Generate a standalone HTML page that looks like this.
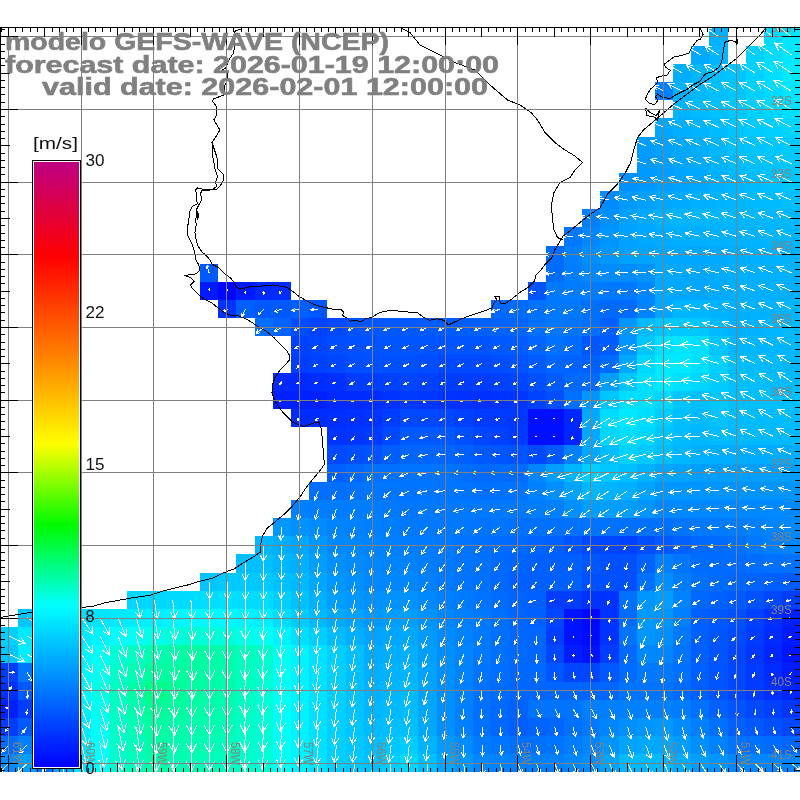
<!DOCTYPE html>
<html><head><meta charset="utf-8"><title>GEFS-WAVE</title>
<style>
html,body{margin:0;padding:0;background:#fff;}
body{width:800px;height:800px;overflow:hidden;font-family:"Liberation Sans",sans-serif;}
svg{display:block;}
text{font-family:"Liberation Sans",sans-serif;}
</style></head><body>
<svg width="800" height="800" viewBox="0 0 800 800">
<defs>
<linearGradient id="cb" x1="0" y1="0" x2="0" y2="1">
<stop offset="0.0000" stop-color="rgb(190,0,130)"/><stop offset="0.1567" stop-color="rgb(255,0,0)"/><stop offset="0.3200" stop-color="rgb(255,128,0)"/><stop offset="0.4667" stop-color="rgb(255,255,0)"/><stop offset="0.6000" stop-color="rgb(0,250,0)"/><stop offset="0.7333" stop-color="rgb(0,255,255)"/><stop offset="1.0000" stop-color="rgb(0,0,255)"/>
</linearGradient>
</defs>
<rect width="800" height="800" fill="#fff"/>
<g shape-rendering="crispEdges">
<rect x="709" y="28" width="19" height="18" fill="#00b1ff"/>
<rect x="764" y="28" width="18" height="18" fill="#00daff"/>
<rect x="782" y="28" width="18" height="18" fill="#00e6ff"/>
<rect x="691" y="46" width="18" height="18" fill="#00abff"/>
<rect x="709" y="46" width="19" height="18" fill="#00b7ff"/>
<rect x="746" y="46" width="18" height="18" fill="#00d0ff"/>
<rect x="764" y="46" width="18" height="18" fill="#00dcff"/>
<rect x="782" y="46" width="18" height="18" fill="#00e8ff"/>
<rect x="673" y="64" width="18" height="18" fill="#00aeff"/>
<rect x="691" y="64" width="18" height="18" fill="#00b7ff"/>
<rect x="709" y="64" width="19" height="18" fill="#00beff"/>
<rect x="728" y="64" width="18" height="18" fill="#00c4ff"/>
<rect x="746" y="64" width="18" height="18" fill="#00d1ff"/>
<rect x="764" y="64" width="18" height="18" fill="#00deff"/>
<rect x="782" y="64" width="18" height="18" fill="#00eaff"/>
<rect x="655" y="82" width="18" height="18" fill="#0080ff"/>
<rect x="673" y="82" width="18" height="18" fill="#00b1ff"/>
<rect x="691" y="82" width="18" height="18" fill="#00b9ff"/>
<rect x="709" y="82" width="19" height="18" fill="#00bfff"/>
<rect x="728" y="82" width="18" height="18" fill="#00c6ff"/>
<rect x="746" y="82" width="18" height="18" fill="#00d0ff"/>
<rect x="764" y="82" width="18" height="18" fill="#00daff"/>
<rect x="782" y="82" width="18" height="18" fill="#00e5ff"/>
<rect x="673" y="100" width="18" height="18" fill="#00b4ff"/>
<rect x="691" y="100" width="18" height="18" fill="#00baff"/>
<rect x="709" y="100" width="19" height="18" fill="#00c1ff"/>
<rect x="728" y="100" width="18" height="18" fill="#00c7ff"/>
<rect x="746" y="100" width="18" height="18" fill="#00cfff"/>
<rect x="764" y="100" width="18" height="18" fill="#00d7ff"/>
<rect x="782" y="100" width="18" height="18" fill="#00dfff"/>
<rect x="655" y="118" width="18" height="19" fill="#00a7ff"/>
<rect x="673" y="118" width="18" height="19" fill="#00aeff"/>
<rect x="691" y="118" width="18" height="19" fill="#00b4ff"/>
<rect x="709" y="118" width="19" height="19" fill="#00bcff"/>
<rect x="728" y="118" width="18" height="19" fill="#00c4ff"/>
<rect x="746" y="118" width="18" height="19" fill="#00caff"/>
<rect x="764" y="118" width="18" height="19" fill="#00cfff"/>
<rect x="782" y="118" width="18" height="19" fill="#00d5ff"/>
<rect x="637" y="137" width="18" height="18" fill="#009cff"/>
<rect x="655" y="137" width="18" height="18" fill="#00a1ff"/>
<rect x="673" y="137" width="18" height="18" fill="#00a7ff"/>
<rect x="691" y="137" width="18" height="18" fill="#00aeff"/>
<rect x="709" y="137" width="19" height="18" fill="#00b7ff"/>
<rect x="728" y="137" width="18" height="18" fill="#00c1ff"/>
<rect x="746" y="137" width="18" height="18" fill="#00c4ff"/>
<rect x="764" y="137" width="18" height="18" fill="#00c7ff"/>
<rect x="782" y="137" width="18" height="18" fill="#00caff"/>
<rect x="637" y="155" width="18" height="18" fill="#009aff"/>
<rect x="655" y="155" width="18" height="18" fill="#009fff"/>
<rect x="673" y="155" width="18" height="18" fill="#00a5ff"/>
<rect x="691" y="155" width="18" height="18" fill="#00abff"/>
<rect x="709" y="155" width="19" height="18" fill="#00b3ff"/>
<rect x="728" y="155" width="18" height="18" fill="#00bcff"/>
<rect x="746" y="155" width="18" height="18" fill="#00c0ff"/>
<rect x="764" y="155" width="18" height="18" fill="#00c4ff"/>
<rect x="782" y="155" width="18" height="18" fill="#00c8ff"/>
<rect x="619" y="173" width="18" height="18" fill="#0091ff"/>
<rect x="637" y="173" width="18" height="18" fill="#0097ff"/>
<rect x="655" y="173" width="18" height="18" fill="#009eff"/>
<rect x="673" y="173" width="18" height="18" fill="#00a3ff"/>
<rect x="691" y="173" width="18" height="18" fill="#00a7ff"/>
<rect x="709" y="173" width="19" height="18" fill="#00afff"/>
<rect x="728" y="173" width="18" height="18" fill="#00b7ff"/>
<rect x="746" y="173" width="18" height="18" fill="#00bcff"/>
<rect x="764" y="173" width="18" height="18" fill="#00c1ff"/>
<rect x="782" y="173" width="18" height="18" fill="#00c6ff"/>
<rect x="600" y="191" width="19" height="18" fill="#008cff"/>
<rect x="619" y="191" width="18" height="18" fill="#0099ff"/>
<rect x="637" y="191" width="18" height="18" fill="#00a0ff"/>
<rect x="655" y="191" width="18" height="18" fill="#00a7ff"/>
<rect x="673" y="191" width="18" height="18" fill="#00abff"/>
<rect x="691" y="191" width="18" height="18" fill="#00afff"/>
<rect x="709" y="191" width="19" height="18" fill="#00b3ff"/>
<rect x="728" y="191" width="18" height="18" fill="#00b7ff"/>
<rect x="746" y="191" width="18" height="18" fill="#00baff"/>
<rect x="764" y="191" width="18" height="18" fill="#00bcff"/>
<rect x="782" y="191" width="18" height="18" fill="#00beff"/>
<rect x="582" y="209" width="18" height="18" fill="#0080ff"/>
<rect x="600" y="209" width="19" height="18" fill="#0090ff"/>
<rect x="619" y="209" width="18" height="18" fill="#00a1ff"/>
<rect x="637" y="209" width="18" height="18" fill="#00a9ff"/>
<rect x="655" y="209" width="18" height="18" fill="#00b1ff"/>
<rect x="673" y="209" width="18" height="18" fill="#00b4ff"/>
<rect x="691" y="209" width="18" height="18" fill="#00b7ff"/>
<rect x="709" y="209" width="19" height="18" fill="#00b7ff"/>
<rect x="728" y="209" width="18" height="18" fill="#00b7ff"/>
<rect x="746" y="209" width="18" height="18" fill="#00b7ff"/>
<rect x="764" y="209" width="18" height="18" fill="#00b7ff"/>
<rect x="782" y="209" width="18" height="18" fill="#00b7ff"/>
<rect x="564" y="227" width="18" height="19" fill="#0079ff"/>
<rect x="582" y="227" width="18" height="19" fill="#0087ff"/>
<rect x="600" y="227" width="19" height="19" fill="#0094ff"/>
<rect x="619" y="227" width="18" height="19" fill="#00a1ff"/>
<rect x="637" y="227" width="18" height="19" fill="#00a7ff"/>
<rect x="655" y="227" width="18" height="19" fill="#00acff"/>
<rect x="673" y="227" width="18" height="19" fill="#00aeff"/>
<rect x="691" y="227" width="18" height="19" fill="#00afff"/>
<rect x="709" y="227" width="19" height="19" fill="#00b1ff"/>
<rect x="728" y="227" width="18" height="19" fill="#00b2ff"/>
<rect x="746" y="227" width="18" height="19" fill="#00b3ff"/>
<rect x="764" y="227" width="18" height="19" fill="#00b4ff"/>
<rect x="782" y="227" width="18" height="19" fill="#00b5ff"/>
<rect x="546" y="246" width="18" height="18" fill="#006cff"/>
<rect x="564" y="246" width="18" height="18" fill="#0080ff"/>
<rect x="582" y="246" width="18" height="18" fill="#008fff"/>
<rect x="600" y="246" width="19" height="18" fill="#0098ff"/>
<rect x="619" y="246" width="18" height="18" fill="#00a1ff"/>
<rect x="637" y="246" width="18" height="18" fill="#00a4ff"/>
<rect x="655" y="246" width="18" height="18" fill="#00a7ff"/>
<rect x="673" y="246" width="18" height="18" fill="#00a7ff"/>
<rect x="691" y="246" width="18" height="18" fill="#00a7ff"/>
<rect x="709" y="246" width="19" height="18" fill="#00abff"/>
<rect x="728" y="246" width="18" height="18" fill="#00aeff"/>
<rect x="746" y="246" width="18" height="18" fill="#00afff"/>
<rect x="764" y="246" width="18" height="18" fill="#00b1ff"/>
<rect x="782" y="246" width="18" height="18" fill="#00b2ff"/>
<rect x="200" y="264" width="18" height="18" fill="#0059ff"/>
<rect x="546" y="264" width="18" height="18" fill="#006cff"/>
<rect x="564" y="264" width="18" height="18" fill="#007eff"/>
<rect x="582" y="264" width="18" height="18" fill="#0089ff"/>
<rect x="600" y="264" width="19" height="18" fill="#008cff"/>
<rect x="619" y="264" width="18" height="18" fill="#008cff"/>
<rect x="637" y="264" width="18" height="18" fill="#0093ff"/>
<rect x="655" y="264" width="18" height="18" fill="#00a8ff"/>
<rect x="673" y="264" width="18" height="18" fill="#00a7ff"/>
<rect x="691" y="264" width="18" height="18" fill="#00a7ff"/>
<rect x="709" y="264" width="19" height="18" fill="#00abff"/>
<rect x="728" y="264" width="18" height="18" fill="#00afff"/>
<rect x="746" y="264" width="18" height="18" fill="#00afff"/>
<rect x="764" y="264" width="18" height="18" fill="#00b0ff"/>
<rect x="782" y="264" width="18" height="18" fill="#00b1ff"/>
<rect x="200" y="282" width="18" height="18" fill="#001aff"/>
<rect x="218" y="282" width="18" height="18" fill="#0006ff"/>
<rect x="236" y="282" width="19" height="18" fill="#001aff"/>
<rect x="255" y="282" width="18" height="18" fill="#0029ff"/>
<rect x="273" y="282" width="18" height="18" fill="#002dff"/>
<rect x="528" y="282" width="18" height="18" fill="#0053ff"/>
<rect x="546" y="282" width="18" height="18" fill="#0079ff"/>
<rect x="564" y="282" width="18" height="18" fill="#007cff"/>
<rect x="582" y="282" width="18" height="18" fill="#007cff"/>
<rect x="600" y="282" width="19" height="18" fill="#0079ff"/>
<rect x="619" y="282" width="18" height="18" fill="#0079ff"/>
<rect x="637" y="282" width="18" height="18" fill="#0086ff"/>
<rect x="655" y="282" width="18" height="18" fill="#00a9ff"/>
<rect x="673" y="282" width="18" height="18" fill="#00a7ff"/>
<rect x="691" y="282" width="18" height="18" fill="#00a6ff"/>
<rect x="709" y="282" width="19" height="18" fill="#00abff"/>
<rect x="728" y="282" width="18" height="18" fill="#00afff"/>
<rect x="746" y="282" width="18" height="18" fill="#00afff"/>
<rect x="764" y="282" width="18" height="18" fill="#00afff"/>
<rect x="782" y="282" width="18" height="18" fill="#00afff"/>
<rect x="218" y="300" width="18" height="18" fill="#0033ff"/>
<rect x="236" y="300" width="19" height="18" fill="#0060ff"/>
<rect x="255" y="300" width="18" height="18" fill="#0059ff"/>
<rect x="273" y="300" width="18" height="18" fill="#0059ff"/>
<rect x="291" y="300" width="18" height="18" fill="#0060ff"/>
<rect x="309" y="300" width="18" height="18" fill="#0056ff"/>
<rect x="491" y="300" width="18" height="18" fill="#0069ff"/>
<rect x="509" y="300" width="19" height="18" fill="#006bff"/>
<rect x="528" y="300" width="18" height="18" fill="#0072ff"/>
<rect x="546" y="300" width="18" height="18" fill="#0079ff"/>
<rect x="564" y="300" width="18" height="18" fill="#0078ff"/>
<rect x="582" y="300" width="18" height="18" fill="#0070ff"/>
<rect x="600" y="300" width="19" height="18" fill="#0069ff"/>
<rect x="619" y="300" width="18" height="18" fill="#006cff"/>
<rect x="637" y="300" width="18" height="18" fill="#0083ff"/>
<rect x="655" y="300" width="18" height="18" fill="#00a6ff"/>
<rect x="673" y="300" width="18" height="18" fill="#00b5ff"/>
<rect x="691" y="300" width="18" height="18" fill="#00b6ff"/>
<rect x="709" y="300" width="19" height="18" fill="#00b2ff"/>
<rect x="728" y="300" width="18" height="18" fill="#00afff"/>
<rect x="746" y="300" width="18" height="18" fill="#00b1ff"/>
<rect x="764" y="300" width="18" height="18" fill="#00b2ff"/>
<rect x="782" y="300" width="18" height="18" fill="#00b4ff"/>
<rect x="255" y="318" width="18" height="18" fill="#0070ff"/>
<rect x="273" y="318" width="18" height="18" fill="#0063ff"/>
<rect x="291" y="318" width="18" height="18" fill="#004cff"/>
<rect x="309" y="318" width="18" height="18" fill="#0043ff"/>
<rect x="327" y="318" width="19" height="18" fill="#0049ff"/>
<rect x="346" y="318" width="18" height="18" fill="#0053ff"/>
<rect x="364" y="318" width="18" height="18" fill="#0056ff"/>
<rect x="382" y="318" width="18" height="18" fill="#0058ff"/>
<rect x="400" y="318" width="18" height="18" fill="#0059ff"/>
<rect x="418" y="318" width="19" height="18" fill="#005bff"/>
<rect x="437" y="318" width="18" height="18" fill="#005cff"/>
<rect x="455" y="318" width="18" height="18" fill="#005eff"/>
<rect x="473" y="318" width="18" height="18" fill="#0060ff"/>
<rect x="491" y="318" width="18" height="18" fill="#0063ff"/>
<rect x="509" y="318" width="19" height="18" fill="#0066ff"/>
<rect x="528" y="318" width="18" height="18" fill="#0070ff"/>
<rect x="546" y="318" width="18" height="18" fill="#0079ff"/>
<rect x="564" y="318" width="18" height="18" fill="#0074ff"/>
<rect x="582" y="318" width="18" height="18" fill="#0070ff"/>
<rect x="600" y="318" width="19" height="18" fill="#0060ff"/>
<rect x="619" y="318" width="18" height="18" fill="#0096ff"/>
<rect x="637" y="318" width="18" height="18" fill="#00b9ff"/>
<rect x="655" y="318" width="18" height="18" fill="#00c6ff"/>
<rect x="673" y="318" width="18" height="18" fill="#00c9ff"/>
<rect x="691" y="318" width="18" height="18" fill="#00c6ff"/>
<rect x="709" y="318" width="19" height="18" fill="#00baff"/>
<rect x="728" y="318" width="18" height="18" fill="#00afff"/>
<rect x="746" y="318" width="18" height="18" fill="#00b2ff"/>
<rect x="764" y="318" width="18" height="18" fill="#00b6ff"/>
<rect x="782" y="318" width="18" height="18" fill="#00b9ff"/>
<rect x="291" y="336" width="18" height="19" fill="#0040ff"/>
<rect x="309" y="336" width="18" height="19" fill="#0046ff"/>
<rect x="327" y="336" width="19" height="19" fill="#004cff"/>
<rect x="346" y="336" width="18" height="19" fill="#0050ff"/>
<rect x="364" y="336" width="18" height="19" fill="#0053ff"/>
<rect x="382" y="336" width="18" height="19" fill="#0054ff"/>
<rect x="400" y="336" width="18" height="19" fill="#0054ff"/>
<rect x="418" y="336" width="19" height="19" fill="#0054ff"/>
<rect x="437" y="336" width="18" height="19" fill="#0053ff"/>
<rect x="455" y="336" width="18" height="19" fill="#0054ff"/>
<rect x="473" y="336" width="18" height="19" fill="#0054ff"/>
<rect x="491" y="336" width="18" height="19" fill="#0058ff"/>
<rect x="509" y="336" width="19" height="19" fill="#005cff"/>
<rect x="528" y="336" width="18" height="19" fill="#0066ff"/>
<rect x="546" y="336" width="18" height="19" fill="#0070ff"/>
<rect x="564" y="336" width="18" height="19" fill="#006cff"/>
<rect x="582" y="336" width="18" height="19" fill="#0056ff"/>
<rect x="600" y="336" width="19" height="19" fill="#005cff"/>
<rect x="619" y="336" width="18" height="19" fill="#0096ff"/>
<rect x="637" y="336" width="18" height="19" fill="#00c6ff"/>
<rect x="655" y="336" width="18" height="19" fill="#00dfff"/>
<rect x="673" y="336" width="18" height="19" fill="#00e6ff"/>
<rect x="691" y="336" width="18" height="19" fill="#00dfff"/>
<rect x="709" y="336" width="19" height="19" fill="#00c5ff"/>
<rect x="728" y="336" width="18" height="19" fill="#00b7ff"/>
<rect x="746" y="336" width="18" height="19" fill="#00b7ff"/>
<rect x="764" y="336" width="18" height="19" fill="#00b7ff"/>
<rect x="782" y="336" width="18" height="19" fill="#00b7ff"/>
<rect x="291" y="355" width="18" height="18" fill="#003dff"/>
<rect x="309" y="355" width="18" height="18" fill="#0040ff"/>
<rect x="327" y="355" width="19" height="18" fill="#0046ff"/>
<rect x="346" y="355" width="18" height="18" fill="#004cff"/>
<rect x="364" y="355" width="18" height="18" fill="#0050ff"/>
<rect x="382" y="355" width="18" height="18" fill="#0050ff"/>
<rect x="400" y="355" width="18" height="18" fill="#0050ff"/>
<rect x="418" y="355" width="19" height="18" fill="#004cff"/>
<rect x="437" y="355" width="18" height="18" fill="#0049ff"/>
<rect x="455" y="355" width="18" height="18" fill="#0049ff"/>
<rect x="473" y="355" width="18" height="18" fill="#0049ff"/>
<rect x="491" y="355" width="18" height="18" fill="#004eff"/>
<rect x="509" y="355" width="19" height="18" fill="#0053ff"/>
<rect x="528" y="355" width="18" height="18" fill="#005cff"/>
<rect x="546" y="355" width="18" height="18" fill="#0066ff"/>
<rect x="564" y="355" width="18" height="18" fill="#0063ff"/>
<rect x="582" y="355" width="18" height="18" fill="#0060ff"/>
<rect x="600" y="355" width="19" height="18" fill="#006cff"/>
<rect x="619" y="355" width="18" height="18" fill="#00a9ff"/>
<rect x="637" y="355" width="18" height="18" fill="#00d6ff"/>
<rect x="655" y="355" width="18" height="18" fill="#00e9ff"/>
<rect x="673" y="355" width="18" height="18" fill="#00e9ff"/>
<rect x="691" y="355" width="18" height="18" fill="#00dfff"/>
<rect x="709" y="355" width="19" height="18" fill="#00cfff"/>
<rect x="728" y="355" width="18" height="18" fill="#00bfff"/>
<rect x="746" y="355" width="18" height="18" fill="#00bcff"/>
<rect x="764" y="355" width="18" height="18" fill="#00b9ff"/>
<rect x="782" y="355" width="18" height="18" fill="#00b6ff"/>
<rect x="273" y="373" width="18" height="18" fill="#0029ff"/>
<rect x="291" y="373" width="18" height="18" fill="#0029ff"/>
<rect x="309" y="373" width="18" height="18" fill="#002dff"/>
<rect x="327" y="373" width="19" height="18" fill="#0030ff"/>
<rect x="346" y="373" width="18" height="18" fill="#003cff"/>
<rect x="364" y="373" width="18" height="18" fill="#003eff"/>
<rect x="382" y="373" width="18" height="18" fill="#0041ff"/>
<rect x="400" y="373" width="18" height="18" fill="#0045ff"/>
<rect x="418" y="373" width="19" height="18" fill="#0041ff"/>
<rect x="437" y="373" width="18" height="18" fill="#003eff"/>
<rect x="455" y="373" width="18" height="18" fill="#003dff"/>
<rect x="473" y="373" width="18" height="18" fill="#003dff"/>
<rect x="491" y="373" width="18" height="18" fill="#0041ff"/>
<rect x="509" y="373" width="19" height="18" fill="#0045ff"/>
<rect x="528" y="373" width="18" height="18" fill="#0050ff"/>
<rect x="546" y="373" width="18" height="18" fill="#005bff"/>
<rect x="564" y="373" width="18" height="18" fill="#0069ff"/>
<rect x="582" y="373" width="18" height="18" fill="#006cff"/>
<rect x="600" y="373" width="19" height="18" fill="#009fff"/>
<rect x="619" y="373" width="18" height="18" fill="#00c6ff"/>
<rect x="637" y="373" width="18" height="18" fill="#00dfff"/>
<rect x="655" y="373" width="18" height="18" fill="#00e9ff"/>
<rect x="673" y="373" width="18" height="18" fill="#00dfff"/>
<rect x="691" y="373" width="18" height="18" fill="#00d6ff"/>
<rect x="709" y="373" width="19" height="18" fill="#00cbff"/>
<rect x="728" y="373" width="18" height="18" fill="#00bfff"/>
<rect x="746" y="373" width="18" height="18" fill="#00beff"/>
<rect x="764" y="373" width="18" height="18" fill="#00bcff"/>
<rect x="782" y="373" width="18" height="18" fill="#00baff"/>
<rect x="273" y="391" width="18" height="18" fill="#0020ff"/>
<rect x="291" y="391" width="18" height="18" fill="#0020ff"/>
<rect x="309" y="391" width="18" height="18" fill="#0020ff"/>
<rect x="327" y="391" width="19" height="18" fill="#0029ff"/>
<rect x="346" y="391" width="18" height="18" fill="#002bff"/>
<rect x="364" y="391" width="18" height="18" fill="#002dff"/>
<rect x="382" y="391" width="18" height="18" fill="#0033ff"/>
<rect x="400" y="391" width="18" height="18" fill="#0039ff"/>
<rect x="418" y="391" width="19" height="18" fill="#0036ff"/>
<rect x="437" y="391" width="18" height="18" fill="#0033ff"/>
<rect x="455" y="391" width="18" height="18" fill="#0031ff"/>
<rect x="473" y="391" width="18" height="18" fill="#0030ff"/>
<rect x="491" y="391" width="18" height="18" fill="#0033ff"/>
<rect x="509" y="391" width="19" height="18" fill="#0036ff"/>
<rect x="528" y="391" width="18" height="18" fill="#0043ff"/>
<rect x="546" y="391" width="18" height="18" fill="#0050ff"/>
<rect x="564" y="391" width="18" height="18" fill="#0070ff"/>
<rect x="582" y="391" width="18" height="18" fill="#0096ff"/>
<rect x="600" y="391" width="19" height="18" fill="#00c6ff"/>
<rect x="619" y="391" width="18" height="18" fill="#00dfff"/>
<rect x="637" y="391" width="18" height="18" fill="#00dfff"/>
<rect x="655" y="391" width="18" height="18" fill="#00d6ff"/>
<rect x="673" y="391" width="18" height="18" fill="#00c6ff"/>
<rect x="691" y="391" width="18" height="18" fill="#00bfff"/>
<rect x="709" y="391" width="19" height="18" fill="#00c7ff"/>
<rect x="728" y="391" width="18" height="18" fill="#00bfff"/>
<rect x="746" y="391" width="18" height="18" fill="#00bfff"/>
<rect x="764" y="391" width="18" height="18" fill="#00bfff"/>
<rect x="782" y="391" width="18" height="18" fill="#00bfff"/>
<rect x="291" y="409" width="18" height="18" fill="#002bff"/>
<rect x="309" y="409" width="18" height="18" fill="#002dff"/>
<rect x="327" y="409" width="19" height="18" fill="#002eff"/>
<rect x="346" y="409" width="18" height="18" fill="#0031ff"/>
<rect x="364" y="409" width="18" height="18" fill="#0033ff"/>
<rect x="382" y="409" width="18" height="18" fill="#003eff"/>
<rect x="400" y="409" width="18" height="18" fill="#0049ff"/>
<rect x="418" y="409" width="19" height="18" fill="#0048ff"/>
<rect x="437" y="409" width="18" height="18" fill="#0046ff"/>
<rect x="455" y="409" width="18" height="18" fill="#0041ff"/>
<rect x="473" y="409" width="18" height="18" fill="#003bff"/>
<rect x="491" y="409" width="18" height="18" fill="#0039ff"/>
<rect x="509" y="409" width="19" height="18" fill="#0038ff"/>
<rect x="528" y="409" width="18" height="18" fill="#0010ff"/>
<rect x="546" y="409" width="18" height="18" fill="#0010ff"/>
<rect x="564" y="409" width="18" height="18" fill="#0026ff"/>
<rect x="582" y="409" width="18" height="18" fill="#00a9ff"/>
<rect x="600" y="409" width="19" height="18" fill="#00dcff"/>
<rect x="619" y="409" width="18" height="18" fill="#00e9ff"/>
<rect x="637" y="409" width="18" height="18" fill="#00dfff"/>
<rect x="655" y="409" width="18" height="18" fill="#00ccff"/>
<rect x="673" y="409" width="18" height="18" fill="#00bfff"/>
<rect x="691" y="409" width="18" height="18" fill="#00b9ff"/>
<rect x="709" y="409" width="19" height="18" fill="#00c2ff"/>
<rect x="728" y="409" width="18" height="18" fill="#00bcff"/>
<rect x="746" y="409" width="18" height="18" fill="#00bcff"/>
<rect x="764" y="409" width="18" height="18" fill="#00bcff"/>
<rect x="782" y="409" width="18" height="18" fill="#00bcff"/>
<rect x="327" y="427" width="19" height="18" fill="#0033ff"/>
<rect x="346" y="427" width="18" height="18" fill="#0036ff"/>
<rect x="364" y="427" width="18" height="18" fill="#0039ff"/>
<rect x="382" y="427" width="18" height="18" fill="#0049ff"/>
<rect x="400" y="427" width="18" height="18" fill="#0059ff"/>
<rect x="418" y="427" width="19" height="18" fill="#0059ff"/>
<rect x="437" y="427" width="18" height="18" fill="#0059ff"/>
<rect x="455" y="427" width="18" height="18" fill="#0050ff"/>
<rect x="473" y="427" width="18" height="18" fill="#0046ff"/>
<rect x="491" y="427" width="18" height="18" fill="#0040ff"/>
<rect x="509" y="427" width="19" height="18" fill="#0039ff"/>
<rect x="528" y="427" width="18" height="18" fill="#0010ff"/>
<rect x="546" y="427" width="18" height="18" fill="#0010ff"/>
<rect x="564" y="427" width="18" height="18" fill="#0026ff"/>
<rect x="582" y="427" width="18" height="18" fill="#00a9ff"/>
<rect x="600" y="427" width="19" height="18" fill="#00d6ff"/>
<rect x="619" y="427" width="18" height="18" fill="#00dfff"/>
<rect x="637" y="427" width="18" height="18" fill="#00d6ff"/>
<rect x="655" y="427" width="18" height="18" fill="#00c6ff"/>
<rect x="673" y="427" width="18" height="18" fill="#00bcff"/>
<rect x="691" y="427" width="18" height="18" fill="#00b6ff"/>
<rect x="709" y="427" width="19" height="18" fill="#00bcff"/>
<rect x="728" y="427" width="18" height="18" fill="#00b9ff"/>
<rect x="746" y="427" width="18" height="18" fill="#00b9ff"/>
<rect x="764" y="427" width="18" height="18" fill="#00b9ff"/>
<rect x="782" y="427" width="18" height="18" fill="#00b9ff"/>
<rect x="327" y="445" width="19" height="19" fill="#0049ff"/>
<rect x="346" y="445" width="18" height="19" fill="#004fff"/>
<rect x="364" y="445" width="18" height="19" fill="#0054ff"/>
<rect x="382" y="445" width="18" height="19" fill="#005dff"/>
<rect x="400" y="445" width="18" height="19" fill="#0066ff"/>
<rect x="418" y="445" width="19" height="19" fill="#0066ff"/>
<rect x="437" y="445" width="18" height="19" fill="#0066ff"/>
<rect x="455" y="445" width="18" height="19" fill="#005fff"/>
<rect x="473" y="445" width="18" height="19" fill="#0058ff"/>
<rect x="491" y="445" width="18" height="19" fill="#0055ff"/>
<rect x="509" y="445" width="19" height="19" fill="#0053ff"/>
<rect x="528" y="445" width="18" height="19" fill="#0049ff"/>
<rect x="546" y="445" width="18" height="19" fill="#0059ff"/>
<rect x="564" y="445" width="18" height="19" fill="#0080ff"/>
<rect x="582" y="445" width="18" height="19" fill="#00a7ff"/>
<rect x="600" y="445" width="19" height="19" fill="#00bdff"/>
<rect x="619" y="445" width="18" height="19" fill="#00d2ff"/>
<rect x="637" y="445" width="18" height="19" fill="#00c9ff"/>
<rect x="655" y="445" width="18" height="19" fill="#00bfff"/>
<rect x="673" y="445" width="18" height="19" fill="#00b7ff"/>
<rect x="691" y="445" width="18" height="19" fill="#00afff"/>
<rect x="709" y="445" width="19" height="19" fill="#00aeff"/>
<rect x="728" y="445" width="18" height="19" fill="#00acff"/>
<rect x="746" y="445" width="18" height="19" fill="#00acff"/>
<rect x="764" y="445" width="18" height="19" fill="#00acff"/>
<rect x="782" y="445" width="18" height="19" fill="#00acff"/>
<rect x="327" y="464" width="19" height="18" fill="#0060ff"/>
<rect x="346" y="464" width="18" height="18" fill="#0068ff"/>
<rect x="364" y="464" width="18" height="18" fill="#0070ff"/>
<rect x="382" y="464" width="18" height="18" fill="#0071ff"/>
<rect x="400" y="464" width="18" height="18" fill="#0073ff"/>
<rect x="418" y="464" width="19" height="18" fill="#0073ff"/>
<rect x="437" y="464" width="18" height="18" fill="#0073ff"/>
<rect x="455" y="464" width="18" height="18" fill="#006eff"/>
<rect x="473" y="464" width="18" height="18" fill="#0069ff"/>
<rect x="491" y="464" width="18" height="18" fill="#006bff"/>
<rect x="509" y="464" width="19" height="18" fill="#006cff"/>
<rect x="528" y="464" width="18" height="18" fill="#0086ff"/>
<rect x="546" y="464" width="18" height="18" fill="#009fff"/>
<rect x="564" y="464" width="18" height="18" fill="#00b7ff"/>
<rect x="582" y="464" width="18" height="18" fill="#00cfff"/>
<rect x="600" y="464" width="19" height="18" fill="#00c7ff"/>
<rect x="619" y="464" width="18" height="18" fill="#00bfff"/>
<rect x="637" y="464" width="18" height="18" fill="#00b2ff"/>
<rect x="655" y="464" width="18" height="18" fill="#00a6ff"/>
<rect x="673" y="464" width="18" height="18" fill="#00a3ff"/>
<rect x="691" y="464" width="18" height="18" fill="#009fff"/>
<rect x="709" y="464" width="19" height="18" fill="#009fff"/>
<rect x="728" y="464" width="18" height="18" fill="#009fff"/>
<rect x="746" y="464" width="18" height="18" fill="#009fff"/>
<rect x="764" y="464" width="18" height="18" fill="#009fff"/>
<rect x="782" y="464" width="18" height="18" fill="#009fff"/>
<rect x="309" y="482" width="18" height="18" fill="#006fff"/>
<rect x="327" y="482" width="19" height="18" fill="#006eff"/>
<rect x="346" y="482" width="18" height="18" fill="#0072ff"/>
<rect x="364" y="482" width="18" height="18" fill="#0076ff"/>
<rect x="382" y="482" width="18" height="18" fill="#0075ff"/>
<rect x="400" y="482" width="18" height="18" fill="#0074ff"/>
<rect x="418" y="482" width="19" height="18" fill="#0075ff"/>
<rect x="437" y="482" width="18" height="18" fill="#0076ff"/>
<rect x="455" y="482" width="18" height="18" fill="#0074ff"/>
<rect x="473" y="482" width="18" height="18" fill="#0071ff"/>
<rect x="491" y="482" width="18" height="18" fill="#0072ff"/>
<rect x="509" y="482" width="19" height="18" fill="#0073ff"/>
<rect x="528" y="482" width="18" height="18" fill="#0081ff"/>
<rect x="546" y="482" width="18" height="18" fill="#008fff"/>
<rect x="564" y="482" width="18" height="18" fill="#00a3ff"/>
<rect x="582" y="482" width="18" height="18" fill="#00b7ff"/>
<rect x="600" y="482" width="19" height="18" fill="#00b3ff"/>
<rect x="619" y="482" width="18" height="18" fill="#00afff"/>
<rect x="637" y="482" width="18" height="18" fill="#00a3ff"/>
<rect x="655" y="482" width="18" height="18" fill="#0097ff"/>
<rect x="673" y="482" width="18" height="18" fill="#0096ff"/>
<rect x="691" y="482" width="18" height="18" fill="#0094ff"/>
<rect x="709" y="482" width="19" height="18" fill="#0094ff"/>
<rect x="728" y="482" width="18" height="18" fill="#0094ff"/>
<rect x="746" y="482" width="18" height="18" fill="#0094ff"/>
<rect x="764" y="482" width="18" height="18" fill="#0094ff"/>
<rect x="782" y="482" width="18" height="18" fill="#0094ff"/>
<rect x="291" y="500" width="18" height="18" fill="#0080ff"/>
<rect x="309" y="500" width="18" height="18" fill="#007eff"/>
<rect x="327" y="500" width="19" height="18" fill="#007cff"/>
<rect x="346" y="500" width="18" height="18" fill="#007cff"/>
<rect x="364" y="500" width="18" height="18" fill="#007cff"/>
<rect x="382" y="500" width="18" height="18" fill="#0079ff"/>
<rect x="400" y="500" width="18" height="18" fill="#0076ff"/>
<rect x="418" y="500" width="19" height="18" fill="#0078ff"/>
<rect x="437" y="500" width="18" height="18" fill="#0079ff"/>
<rect x="455" y="500" width="18" height="18" fill="#0079ff"/>
<rect x="473" y="500" width="18" height="18" fill="#0079ff"/>
<rect x="491" y="500" width="18" height="18" fill="#0079ff"/>
<rect x="509" y="500" width="19" height="18" fill="#0079ff"/>
<rect x="528" y="500" width="18" height="18" fill="#007cff"/>
<rect x="546" y="500" width="18" height="18" fill="#0080ff"/>
<rect x="564" y="500" width="18" height="18" fill="#008fff"/>
<rect x="582" y="500" width="18" height="18" fill="#009fff"/>
<rect x="600" y="500" width="19" height="18" fill="#009fff"/>
<rect x="619" y="500" width="18" height="18" fill="#009fff"/>
<rect x="637" y="500" width="18" height="18" fill="#0094ff"/>
<rect x="655" y="500" width="18" height="18" fill="#0089ff"/>
<rect x="673" y="500" width="18" height="18" fill="#0089ff"/>
<rect x="691" y="500" width="18" height="18" fill="#0089ff"/>
<rect x="709" y="500" width="19" height="18" fill="#0089ff"/>
<rect x="728" y="500" width="18" height="18" fill="#0089ff"/>
<rect x="746" y="500" width="18" height="18" fill="#0089ff"/>
<rect x="764" y="500" width="18" height="18" fill="#0089ff"/>
<rect x="782" y="500" width="18" height="18" fill="#0089ff"/>
<rect x="273" y="518" width="18" height="18" fill="#0097ff"/>
<rect x="291" y="518" width="18" height="18" fill="#0093ff"/>
<rect x="309" y="518" width="18" height="18" fill="#008bff"/>
<rect x="327" y="518" width="19" height="18" fill="#0083ff"/>
<rect x="346" y="518" width="18" height="18" fill="#0081ff"/>
<rect x="364" y="518" width="18" height="18" fill="#0080ff"/>
<rect x="382" y="518" width="18" height="18" fill="#007cff"/>
<rect x="400" y="518" width="18" height="18" fill="#0079ff"/>
<rect x="418" y="518" width="19" height="18" fill="#0079ff"/>
<rect x="437" y="518" width="18" height="18" fill="#0079ff"/>
<rect x="455" y="518" width="18" height="18" fill="#0077ff"/>
<rect x="473" y="518" width="18" height="18" fill="#0074ff"/>
<rect x="491" y="518" width="18" height="18" fill="#0073ff"/>
<rect x="509" y="518" width="19" height="18" fill="#0071ff"/>
<rect x="528" y="518" width="18" height="18" fill="#0070ff"/>
<rect x="546" y="518" width="18" height="18" fill="#0070ff"/>
<rect x="564" y="518" width="18" height="18" fill="#0072ff"/>
<rect x="582" y="518" width="18" height="18" fill="#0074ff"/>
<rect x="600" y="518" width="19" height="18" fill="#0072ff"/>
<rect x="619" y="518" width="18" height="18" fill="#0070ff"/>
<rect x="637" y="518" width="18" height="18" fill="#0070ff"/>
<rect x="655" y="518" width="18" height="18" fill="#0071ff"/>
<rect x="673" y="518" width="18" height="18" fill="#0075ff"/>
<rect x="691" y="518" width="18" height="18" fill="#0079ff"/>
<rect x="709" y="518" width="19" height="18" fill="#007bff"/>
<rect x="728" y="518" width="18" height="18" fill="#007cff"/>
<rect x="746" y="518" width="18" height="18" fill="#0080ff"/>
<rect x="764" y="518" width="18" height="18" fill="#0084ff"/>
<rect x="782" y="518" width="18" height="18" fill="#0088ff"/>
<rect x="255" y="536" width="18" height="18" fill="#00b6ff"/>
<rect x="273" y="536" width="18" height="18" fill="#00aeff"/>
<rect x="291" y="536" width="18" height="18" fill="#00a6ff"/>
<rect x="309" y="536" width="18" height="18" fill="#0097ff"/>
<rect x="327" y="536" width="19" height="18" fill="#0089ff"/>
<rect x="346" y="536" width="18" height="18" fill="#0086ff"/>
<rect x="364" y="536" width="18" height="18" fill="#0083ff"/>
<rect x="382" y="536" width="18" height="18" fill="#0080ff"/>
<rect x="400" y="536" width="18" height="18" fill="#007cff"/>
<rect x="418" y="536" width="19" height="18" fill="#007bff"/>
<rect x="437" y="536" width="18" height="18" fill="#0079ff"/>
<rect x="455" y="536" width="18" height="18" fill="#0074ff"/>
<rect x="473" y="536" width="18" height="18" fill="#0070ff"/>
<rect x="491" y="536" width="18" height="18" fill="#006cff"/>
<rect x="509" y="536" width="19" height="18" fill="#0069ff"/>
<rect x="528" y="536" width="18" height="18" fill="#0064ff"/>
<rect x="546" y="536" width="18" height="18" fill="#0060ff"/>
<rect x="564" y="536" width="18" height="18" fill="#0054ff"/>
<rect x="582" y="536" width="18" height="18" fill="#0049ff"/>
<rect x="600" y="536" width="19" height="18" fill="#0045ff"/>
<rect x="619" y="536" width="18" height="18" fill="#0040ff"/>
<rect x="637" y="536" width="18" height="18" fill="#004cff"/>
<rect x="655" y="536" width="18" height="18" fill="#0059ff"/>
<rect x="673" y="536" width="18" height="18" fill="#0061ff"/>
<rect x="691" y="536" width="18" height="18" fill="#0069ff"/>
<rect x="709" y="536" width="19" height="18" fill="#006cff"/>
<rect x="728" y="536" width="18" height="18" fill="#0070ff"/>
<rect x="746" y="536" width="18" height="18" fill="#0078ff"/>
<rect x="764" y="536" width="18" height="18" fill="#0080ff"/>
<rect x="782" y="536" width="18" height="18" fill="#0087ff"/>
<rect x="236" y="554" width="19" height="19" fill="#00bfff"/>
<rect x="255" y="554" width="18" height="19" fill="#00bfff"/>
<rect x="273" y="554" width="18" height="19" fill="#00b7ff"/>
<rect x="291" y="554" width="18" height="19" fill="#00afff"/>
<rect x="309" y="554" width="18" height="19" fill="#009fff"/>
<rect x="327" y="554" width="19" height="19" fill="#008fff"/>
<rect x="346" y="554" width="18" height="19" fill="#008bff"/>
<rect x="364" y="554" width="18" height="19" fill="#0086ff"/>
<rect x="382" y="554" width="18" height="19" fill="#0083ff"/>
<rect x="400" y="554" width="18" height="19" fill="#0081ff"/>
<rect x="418" y="554" width="19" height="19" fill="#007dff"/>
<rect x="437" y="554" width="18" height="19" fill="#0079ff"/>
<rect x="455" y="554" width="18" height="19" fill="#0074ff"/>
<rect x="473" y="554" width="18" height="19" fill="#0070ff"/>
<rect x="491" y="554" width="18" height="19" fill="#006aff"/>
<rect x="509" y="554" width="19" height="19" fill="#0064ff"/>
<rect x="528" y="554" width="18" height="19" fill="#0060ff"/>
<rect x="546" y="554" width="18" height="19" fill="#0060ff"/>
<rect x="564" y="554" width="18" height="19" fill="#0060ff"/>
<rect x="582" y="554" width="18" height="19" fill="#0056ff"/>
<rect x="600" y="554" width="19" height="19" fill="#0050ff"/>
<rect x="619" y="554" width="18" height="19" fill="#0050ff"/>
<rect x="637" y="554" width="18" height="19" fill="#0063ff"/>
<rect x="655" y="554" width="18" height="19" fill="#0080ff"/>
<rect x="673" y="554" width="18" height="19" fill="#0076ff"/>
<rect x="691" y="554" width="18" height="19" fill="#006cff"/>
<rect x="709" y="554" width="19" height="19" fill="#006cff"/>
<rect x="728" y="554" width="18" height="19" fill="#006bff"/>
<rect x="746" y="554" width="18" height="19" fill="#006dff"/>
<rect x="764" y="554" width="18" height="19" fill="#0070ff"/>
<rect x="782" y="554" width="18" height="19" fill="#0072ff"/>
<rect x="200" y="573" width="18" height="18" fill="#00c4ff"/>
<rect x="218" y="573" width="18" height="18" fill="#00c9ff"/>
<rect x="236" y="573" width="19" height="18" fill="#00c9ff"/>
<rect x="255" y="573" width="18" height="18" fill="#00c9ff"/>
<rect x="273" y="573" width="18" height="18" fill="#00c1ff"/>
<rect x="291" y="573" width="18" height="18" fill="#00b9ff"/>
<rect x="309" y="573" width="18" height="18" fill="#00a7ff"/>
<rect x="327" y="573" width="19" height="18" fill="#0096ff"/>
<rect x="346" y="573" width="18" height="18" fill="#008fff"/>
<rect x="364" y="573" width="18" height="18" fill="#0089ff"/>
<rect x="382" y="573" width="18" height="18" fill="#0087ff"/>
<rect x="400" y="573" width="18" height="18" fill="#0086ff"/>
<rect x="418" y="573" width="19" height="18" fill="#0080ff"/>
<rect x="437" y="573" width="18" height="18" fill="#0079ff"/>
<rect x="455" y="573" width="18" height="18" fill="#0074ff"/>
<rect x="473" y="573" width="18" height="18" fill="#0070ff"/>
<rect x="491" y="573" width="18" height="18" fill="#0068ff"/>
<rect x="509" y="573" width="19" height="18" fill="#0060ff"/>
<rect x="528" y="573" width="18" height="18" fill="#0060ff"/>
<rect x="546" y="573" width="18" height="18" fill="#0060ff"/>
<rect x="564" y="573" width="18" height="18" fill="#0060ff"/>
<rect x="582" y="573" width="18" height="18" fill="#0050ff"/>
<rect x="600" y="573" width="19" height="18" fill="#0050ff"/>
<rect x="619" y="573" width="18" height="18" fill="#0050ff"/>
<rect x="637" y="573" width="18" height="18" fill="#0070ff"/>
<rect x="655" y="573" width="18" height="18" fill="#008fff"/>
<rect x="673" y="573" width="18" height="18" fill="#007cff"/>
<rect x="691" y="573" width="18" height="18" fill="#0070ff"/>
<rect x="709" y="573" width="19" height="18" fill="#006bff"/>
<rect x="728" y="573" width="18" height="18" fill="#0066ff"/>
<rect x="746" y="573" width="18" height="18" fill="#0063ff"/>
<rect x="764" y="573" width="18" height="18" fill="#0060ff"/>
<rect x="782" y="573" width="18" height="18" fill="#005cff"/>
<rect x="127" y="591" width="18" height="18" fill="#00d6ff"/>
<rect x="145" y="591" width="19" height="18" fill="#00d7ff"/>
<rect x="164" y="591" width="18" height="18" fill="#00daff"/>
<rect x="182" y="591" width="18" height="18" fill="#00dcff"/>
<rect x="200" y="591" width="18" height="18" fill="#00deff"/>
<rect x="218" y="591" width="18" height="18" fill="#00e1ff"/>
<rect x="236" y="591" width="19" height="18" fill="#00deff"/>
<rect x="255" y="591" width="18" height="18" fill="#00dcff"/>
<rect x="273" y="591" width="18" height="18" fill="#00cfff"/>
<rect x="291" y="591" width="18" height="18" fill="#00c2ff"/>
<rect x="309" y="591" width="18" height="18" fill="#00b1ff"/>
<rect x="327" y="591" width="19" height="18" fill="#009fff"/>
<rect x="346" y="591" width="18" height="18" fill="#0098ff"/>
<rect x="364" y="591" width="18" height="18" fill="#0091ff"/>
<rect x="382" y="591" width="18" height="18" fill="#0092ff"/>
<rect x="400" y="591" width="18" height="18" fill="#0093ff"/>
<rect x="418" y="591" width="19" height="18" fill="#0089ff"/>
<rect x="437" y="591" width="18" height="18" fill="#0080ff"/>
<rect x="455" y="591" width="18" height="18" fill="#007aff"/>
<rect x="473" y="591" width="18" height="18" fill="#0074ff"/>
<rect x="491" y="591" width="18" height="18" fill="#006cff"/>
<rect x="509" y="591" width="19" height="18" fill="#0063ff"/>
<rect x="528" y="591" width="18" height="18" fill="#0060ff"/>
<rect x="546" y="591" width="18" height="18" fill="#003dff"/>
<rect x="564" y="591" width="18" height="18" fill="#003dff"/>
<rect x="582" y="591" width="18" height="18" fill="#0033ff"/>
<rect x="600" y="591" width="19" height="18" fill="#0033ff"/>
<rect x="619" y="591" width="18" height="18" fill="#0070ff"/>
<rect x="637" y="591" width="18" height="18" fill="#0096ff"/>
<rect x="655" y="591" width="18" height="18" fill="#009fff"/>
<rect x="673" y="591" width="18" height="18" fill="#0083ff"/>
<rect x="691" y="591" width="18" height="18" fill="#0068ff"/>
<rect x="709" y="591" width="19" height="18" fill="#0061ff"/>
<rect x="728" y="591" width="18" height="18" fill="#005bff"/>
<rect x="746" y="591" width="18" height="18" fill="#0051ff"/>
<rect x="764" y="591" width="18" height="18" fill="#0048ff"/>
<rect x="782" y="591" width="18" height="18" fill="#003eff"/>
<rect x="18" y="609" width="18" height="18" fill="#00c6ff"/>
<rect x="36" y="609" width="18" height="18" fill="#00c9ff"/>
<rect x="54" y="609" width="19" height="18" fill="#00d4ff"/>
<rect x="73" y="609" width="18" height="18" fill="#00dfff"/>
<rect x="91" y="609" width="18" height="18" fill="#00e4ff"/>
<rect x="109" y="609" width="18" height="18" fill="#00e9ff"/>
<rect x="127" y="609" width="18" height="18" fill="#00ecff"/>
<rect x="145" y="609" width="19" height="18" fill="#00efff"/>
<rect x="164" y="609" width="18" height="18" fill="#00f4ff"/>
<rect x="182" y="609" width="18" height="18" fill="#00f9ff"/>
<rect x="200" y="609" width="18" height="18" fill="#00f9ff"/>
<rect x="218" y="609" width="18" height="18" fill="#00f9ff"/>
<rect x="236" y="609" width="19" height="18" fill="#00f4ff"/>
<rect x="255" y="609" width="18" height="18" fill="#00efff"/>
<rect x="273" y="609" width="18" height="18" fill="#00deff"/>
<rect x="291" y="609" width="18" height="18" fill="#00ccff"/>
<rect x="309" y="609" width="18" height="18" fill="#00baff"/>
<rect x="327" y="609" width="19" height="18" fill="#00a9ff"/>
<rect x="346" y="609" width="18" height="18" fill="#00a1ff"/>
<rect x="364" y="609" width="18" height="18" fill="#0099ff"/>
<rect x="382" y="609" width="18" height="18" fill="#009cff"/>
<rect x="400" y="609" width="18" height="18" fill="#009fff"/>
<rect x="418" y="609" width="19" height="18" fill="#0093ff"/>
<rect x="437" y="609" width="18" height="18" fill="#0086ff"/>
<rect x="455" y="609" width="18" height="18" fill="#0080ff"/>
<rect x="473" y="609" width="18" height="18" fill="#0079ff"/>
<rect x="491" y="609" width="18" height="18" fill="#0070ff"/>
<rect x="509" y="609" width="19" height="18" fill="#0066ff"/>
<rect x="528" y="609" width="18" height="18" fill="#0060ff"/>
<rect x="546" y="609" width="18" height="18" fill="#0046ff"/>
<rect x="564" y="609" width="18" height="18" fill="#0013ff"/>
<rect x="582" y="609" width="18" height="18" fill="#0006ff"/>
<rect x="600" y="609" width="19" height="18" fill="#0033ff"/>
<rect x="619" y="609" width="18" height="18" fill="#006cff"/>
<rect x="637" y="609" width="18" height="18" fill="#0099ff"/>
<rect x="655" y="609" width="18" height="18" fill="#0096ff"/>
<rect x="673" y="609" width="18" height="18" fill="#0080ff"/>
<rect x="691" y="609" width="18" height="18" fill="#0060ff"/>
<rect x="709" y="609" width="19" height="18" fill="#0058ff"/>
<rect x="728" y="609" width="18" height="18" fill="#0050ff"/>
<rect x="746" y="609" width="18" height="18" fill="#0040ff"/>
<rect x="764" y="609" width="18" height="18" fill="#0030ff"/>
<rect x="782" y="609" width="18" height="18" fill="#0020ff"/>
<rect x="0" y="627" width="18" height="18" fill="#00cfff"/>
<rect x="18" y="627" width="18" height="18" fill="#00e9ff"/>
<rect x="36" y="627" width="18" height="18" fill="#00ccff"/>
<rect x="54" y="627" width="19" height="18" fill="#00dbff"/>
<rect x="73" y="627" width="18" height="18" fill="#00eaff"/>
<rect x="91" y="627" width="18" height="18" fill="#00f4ff"/>
<rect x="109" y="627" width="18" height="18" fill="#00fdff"/>
<rect x="127" y="627" width="18" height="18" fill="#00fff5"/>
<rect x="145" y="627" width="19" height="18" fill="#00ffe8"/>
<rect x="164" y="627" width="18" height="18" fill="#00fedf"/>
<rect x="182" y="627" width="18" height="18" fill="#00fed6"/>
<rect x="200" y="627" width="18" height="18" fill="#00fed9"/>
<rect x="218" y="627" width="18" height="18" fill="#00fedc"/>
<rect x="236" y="627" width="19" height="18" fill="#00ffe9"/>
<rect x="255" y="627" width="18" height="18" fill="#00fff6"/>
<rect x="273" y="627" width="18" height="18" fill="#00f1ff"/>
<rect x="291" y="627" width="18" height="18" fill="#00dfff"/>
<rect x="309" y="627" width="18" height="18" fill="#00ceff"/>
<rect x="327" y="627" width="19" height="18" fill="#00bcff"/>
<rect x="346" y="627" width="18" height="18" fill="#00afff"/>
<rect x="364" y="627" width="18" height="18" fill="#00a3ff"/>
<rect x="382" y="627" width="18" height="18" fill="#00a5ff"/>
<rect x="400" y="627" width="18" height="18" fill="#00a7ff"/>
<rect x="418" y="627" width="19" height="18" fill="#0099ff"/>
<rect x="437" y="627" width="18" height="18" fill="#008bff"/>
<rect x="455" y="627" width="18" height="18" fill="#0082ff"/>
<rect x="473" y="627" width="18" height="18" fill="#0079ff"/>
<rect x="491" y="627" width="18" height="18" fill="#0070ff"/>
<rect x="509" y="627" width="19" height="18" fill="#0068ff"/>
<rect x="528" y="627" width="18" height="18" fill="#0066ff"/>
<rect x="546" y="627" width="18" height="18" fill="#003dff"/>
<rect x="564" y="627" width="18" height="18" fill="#0013ff"/>
<rect x="582" y="627" width="18" height="18" fill="#000aff"/>
<rect x="600" y="627" width="19" height="18" fill="#0033ff"/>
<rect x="619" y="627" width="18" height="18" fill="#0073ff"/>
<rect x="637" y="627" width="18" height="18" fill="#0096ff"/>
<rect x="655" y="627" width="18" height="18" fill="#008fff"/>
<rect x="673" y="627" width="18" height="18" fill="#0079ff"/>
<rect x="691" y="627" width="18" height="18" fill="#0060ff"/>
<rect x="709" y="627" width="19" height="18" fill="#0055ff"/>
<rect x="728" y="627" width="18" height="18" fill="#004bff"/>
<rect x="746" y="627" width="18" height="18" fill="#003bff"/>
<rect x="764" y="627" width="18" height="18" fill="#002bff"/>
<rect x="782" y="627" width="18" height="18" fill="#001bff"/>
<rect x="0" y="645" width="18" height="18" fill="#00c6ff"/>
<rect x="18" y="645" width="18" height="18" fill="#00ecff"/>
<rect x="36" y="645" width="18" height="18" fill="#00cfff"/>
<rect x="54" y="645" width="19" height="18" fill="#00e2ff"/>
<rect x="73" y="645" width="18" height="18" fill="#00f5ff"/>
<rect x="91" y="645" width="18" height="18" fill="#00fff6"/>
<rect x="109" y="645" width="18" height="18" fill="#00feda"/>
<rect x="127" y="645" width="18" height="18" fill="#00fec5"/>
<rect x="145" y="645" width="19" height="18" fill="#00fdb0"/>
<rect x="164" y="645" width="18" height="18" fill="#00fda8"/>
<rect x="182" y="645" width="18" height="18" fill="#00fda0"/>
<rect x="200" y="645" width="18" height="18" fill="#00fda6"/>
<rect x="218" y="645" width="18" height="18" fill="#00fdac"/>
<rect x="236" y="645" width="19" height="18" fill="#00febd"/>
<rect x="255" y="645" width="18" height="18" fill="#00fecd"/>
<rect x="273" y="645" width="18" height="18" fill="#00fff3"/>
<rect x="291" y="645" width="18" height="18" fill="#00f2ff"/>
<rect x="309" y="645" width="18" height="18" fill="#00e1ff"/>
<rect x="327" y="645" width="19" height="18" fill="#00cfff"/>
<rect x="346" y="645" width="18" height="18" fill="#00beff"/>
<rect x="364" y="645" width="18" height="18" fill="#00acff"/>
<rect x="382" y="645" width="18" height="18" fill="#00aeff"/>
<rect x="400" y="645" width="18" height="18" fill="#00afff"/>
<rect x="418" y="645" width="19" height="18" fill="#009fff"/>
<rect x="437" y="645" width="18" height="18" fill="#008fff"/>
<rect x="455" y="645" width="18" height="18" fill="#0084ff"/>
<rect x="473" y="645" width="18" height="18" fill="#0079ff"/>
<rect x="491" y="645" width="18" height="18" fill="#0071ff"/>
<rect x="509" y="645" width="19" height="18" fill="#0069ff"/>
<rect x="528" y="645" width="18" height="18" fill="#0066ff"/>
<rect x="546" y="645" width="18" height="18" fill="#0046ff"/>
<rect x="564" y="645" width="18" height="18" fill="#001dff"/>
<rect x="582" y="645" width="18" height="18" fill="#0013ff"/>
<rect x="600" y="645" width="19" height="18" fill="#003dff"/>
<rect x="619" y="645" width="18" height="18" fill="#0069ff"/>
<rect x="637" y="645" width="18" height="18" fill="#0089ff"/>
<rect x="655" y="645" width="18" height="18" fill="#0086ff"/>
<rect x="673" y="645" width="18" height="18" fill="#0073ff"/>
<rect x="691" y="645" width="18" height="18" fill="#0060ff"/>
<rect x="709" y="645" width="19" height="18" fill="#0053ff"/>
<rect x="728" y="645" width="18" height="18" fill="#0046ff"/>
<rect x="746" y="645" width="18" height="18" fill="#0036ff"/>
<rect x="764" y="645" width="18" height="18" fill="#0026ff"/>
<rect x="782" y="645" width="18" height="18" fill="#0016ff"/>
<rect x="0" y="663" width="18" height="19" fill="#003dff"/>
<rect x="18" y="663" width="18" height="19" fill="#0076ff"/>
<rect x="36" y="663" width="18" height="19" fill="#00a7ff"/>
<rect x="54" y="663" width="19" height="19" fill="#00ceff"/>
<rect x="73" y="663" width="18" height="19" fill="#00f5ff"/>
<rect x="91" y="663" width="18" height="19" fill="#00fff0"/>
<rect x="109" y="663" width="18" height="19" fill="#00fecd"/>
<rect x="127" y="663" width="18" height="19" fill="#00feb5"/>
<rect x="145" y="663" width="19" height="19" fill="#00fd9e"/>
<rect x="164" y="663" width="18" height="19" fill="#00fd9f"/>
<rect x="182" y="663" width="18" height="19" fill="#00fda0"/>
<rect x="200" y="663" width="18" height="19" fill="#00fda6"/>
<rect x="218" y="663" width="18" height="19" fill="#00fdac"/>
<rect x="236" y="663" width="19" height="19" fill="#00febf"/>
<rect x="255" y="663" width="18" height="19" fill="#00fed1"/>
<rect x="273" y="663" width="18" height="19" fill="#00fff5"/>
<rect x="291" y="663" width="18" height="19" fill="#00f2ff"/>
<rect x="309" y="663" width="18" height="19" fill="#00e1ff"/>
<rect x="327" y="663" width="19" height="19" fill="#00cfff"/>
<rect x="346" y="663" width="18" height="19" fill="#00bfff"/>
<rect x="364" y="663" width="18" height="19" fill="#00afff"/>
<rect x="382" y="663" width="18" height="19" fill="#00b2ff"/>
<rect x="400" y="663" width="18" height="19" fill="#00b4ff"/>
<rect x="418" y="663" width="19" height="19" fill="#00a2ff"/>
<rect x="437" y="663" width="18" height="19" fill="#008fff"/>
<rect x="455" y="663" width="18" height="19" fill="#0082ff"/>
<rect x="473" y="663" width="18" height="19" fill="#0074ff"/>
<rect x="491" y="663" width="18" height="19" fill="#006eff"/>
<rect x="509" y="663" width="19" height="19" fill="#0068ff"/>
<rect x="528" y="663" width="18" height="19" fill="#0069ff"/>
<rect x="546" y="663" width="18" height="19" fill="#0056ff"/>
<rect x="564" y="663" width="18" height="19" fill="#0046ff"/>
<rect x="582" y="663" width="18" height="19" fill="#0046ff"/>
<rect x="600" y="663" width="19" height="19" fill="#0059ff"/>
<rect x="619" y="663" width="18" height="19" fill="#006cff"/>
<rect x="637" y="663" width="18" height="19" fill="#0079ff"/>
<rect x="655" y="663" width="18" height="19" fill="#0079ff"/>
<rect x="673" y="663" width="18" height="19" fill="#0070ff"/>
<rect x="691" y="663" width="18" height="19" fill="#0060ff"/>
<rect x="709" y="663" width="19" height="19" fill="#0053ff"/>
<rect x="728" y="663" width="18" height="19" fill="#0046ff"/>
<rect x="746" y="663" width="18" height="19" fill="#0039ff"/>
<rect x="764" y="663" width="18" height="19" fill="#002bff"/>
<rect x="782" y="663" width="18" height="19" fill="#001dff"/>
<rect x="0" y="682" width="18" height="18" fill="#0030ff"/>
<rect x="18" y="682" width="18" height="18" fill="#0059ff"/>
<rect x="36" y="682" width="18" height="18" fill="#0080ff"/>
<rect x="54" y="682" width="19" height="18" fill="#00baff"/>
<rect x="73" y="682" width="18" height="18" fill="#00f5ff"/>
<rect x="91" y="682" width="18" height="18" fill="#00ffe9"/>
<rect x="109" y="682" width="18" height="18" fill="#00fec1"/>
<rect x="127" y="682" width="18" height="18" fill="#00fda6"/>
<rect x="145" y="682" width="19" height="18" fill="#00fd8b"/>
<rect x="164" y="682" width="18" height="18" fill="#00fd95"/>
<rect x="182" y="682" width="18" height="18" fill="#00fda0"/>
<rect x="200" y="682" width="18" height="18" fill="#00fda6"/>
<rect x="218" y="682" width="18" height="18" fill="#00fdac"/>
<rect x="236" y="682" width="19" height="18" fill="#00fec1"/>
<rect x="255" y="682" width="18" height="18" fill="#00fed6"/>
<rect x="273" y="682" width="18" height="18" fill="#00fff7"/>
<rect x="291" y="682" width="18" height="18" fill="#00f2ff"/>
<rect x="309" y="682" width="18" height="18" fill="#00e1ff"/>
<rect x="327" y="682" width="19" height="18" fill="#00cfff"/>
<rect x="346" y="682" width="18" height="18" fill="#00c1ff"/>
<rect x="364" y="682" width="18" height="18" fill="#00b2ff"/>
<rect x="382" y="682" width="18" height="18" fill="#00b6ff"/>
<rect x="400" y="682" width="18" height="18" fill="#00b9ff"/>
<rect x="418" y="682" width="19" height="18" fill="#00a4ff"/>
<rect x="437" y="682" width="18" height="18" fill="#008fff"/>
<rect x="455" y="682" width="18" height="18" fill="#0080ff"/>
<rect x="473" y="682" width="18" height="18" fill="#0070ff"/>
<rect x="491" y="682" width="18" height="18" fill="#006bff"/>
<rect x="509" y="682" width="19" height="18" fill="#0066ff"/>
<rect x="528" y="682" width="18" height="18" fill="#0066ff"/>
<rect x="546" y="682" width="18" height="18" fill="#0066ff"/>
<rect x="564" y="682" width="18" height="18" fill="#0066ff"/>
<rect x="582" y="682" width="18" height="18" fill="#0066ff"/>
<rect x="600" y="682" width="19" height="18" fill="#0066ff"/>
<rect x="619" y="682" width="18" height="18" fill="#0073ff"/>
<rect x="637" y="682" width="18" height="18" fill="#0073ff"/>
<rect x="655" y="682" width="18" height="18" fill="#0073ff"/>
<rect x="673" y="682" width="18" height="18" fill="#006cff"/>
<rect x="691" y="682" width="18" height="18" fill="#0060ff"/>
<rect x="709" y="682" width="19" height="18" fill="#0053ff"/>
<rect x="728" y="682" width="18" height="18" fill="#0046ff"/>
<rect x="746" y="682" width="18" height="18" fill="#003bff"/>
<rect x="764" y="682" width="18" height="18" fill="#0030ff"/>
<rect x="782" y="682" width="18" height="18" fill="#0025ff"/>
<rect x="0" y="700" width="18" height="18" fill="#0020ff"/>
<rect x="18" y="700" width="18" height="18" fill="#003dff"/>
<rect x="36" y="700" width="18" height="18" fill="#0070ff"/>
<rect x="54" y="700" width="19" height="18" fill="#00afff"/>
<rect x="73" y="700" width="18" height="18" fill="#00efff"/>
<rect x="91" y="700" width="18" height="18" fill="#00fff2"/>
<rect x="109" y="700" width="18" height="18" fill="#00fec5"/>
<rect x="127" y="700" width="18" height="18" fill="#00fdad"/>
<rect x="145" y="700" width="19" height="18" fill="#00fd95"/>
<rect x="164" y="700" width="18" height="18" fill="#00fd9e"/>
<rect x="182" y="700" width="18" height="18" fill="#00fda6"/>
<rect x="200" y="700" width="18" height="18" fill="#00fdab"/>
<rect x="218" y="700" width="18" height="18" fill="#00fdb0"/>
<rect x="236" y="700" width="19" height="18" fill="#00fec3"/>
<rect x="255" y="700" width="18" height="18" fill="#00fed6"/>
<rect x="273" y="700" width="18" height="18" fill="#00fff7"/>
<rect x="291" y="700" width="18" height="18" fill="#00f2ff"/>
<rect x="309" y="700" width="18" height="18" fill="#00e1ff"/>
<rect x="327" y="700" width="19" height="18" fill="#00cfff"/>
<rect x="346" y="700" width="18" height="18" fill="#00c3ff"/>
<rect x="364" y="700" width="18" height="18" fill="#00b7ff"/>
<rect x="382" y="700" width="18" height="18" fill="#00baff"/>
<rect x="400" y="700" width="18" height="18" fill="#00bcff"/>
<rect x="418" y="700" width="19" height="18" fill="#00a6ff"/>
<rect x="437" y="700" width="18" height="18" fill="#008fff"/>
<rect x="455" y="700" width="18" height="18" fill="#0080ff"/>
<rect x="473" y="700" width="18" height="18" fill="#0070ff"/>
<rect x="491" y="700" width="18" height="18" fill="#0069ff"/>
<rect x="509" y="700" width="19" height="18" fill="#0063ff"/>
<rect x="528" y="700" width="18" height="18" fill="#0073ff"/>
<rect x="546" y="700" width="18" height="18" fill="#0073ff"/>
<rect x="564" y="700" width="18" height="18" fill="#0073ff"/>
<rect x="582" y="700" width="18" height="18" fill="#0080ff"/>
<rect x="600" y="700" width="19" height="18" fill="#0080ff"/>
<rect x="619" y="700" width="18" height="18" fill="#0080ff"/>
<rect x="637" y="700" width="18" height="18" fill="#0080ff"/>
<rect x="655" y="700" width="18" height="18" fill="#0080ff"/>
<rect x="673" y="700" width="18" height="18" fill="#007cff"/>
<rect x="691" y="700" width="18" height="18" fill="#0070ff"/>
<rect x="709" y="700" width="19" height="18" fill="#0061ff"/>
<rect x="728" y="700" width="18" height="18" fill="#0053ff"/>
<rect x="746" y="700" width="18" height="18" fill="#0049ff"/>
<rect x="764" y="700" width="18" height="18" fill="#0040ff"/>
<rect x="782" y="700" width="18" height="18" fill="#0036ff"/>
<rect x="0" y="718" width="18" height="18" fill="#003dff"/>
<rect x="18" y="718" width="18" height="18" fill="#0059ff"/>
<rect x="36" y="718" width="18" height="18" fill="#0060ff"/>
<rect x="54" y="718" width="19" height="18" fill="#00a4ff"/>
<rect x="73" y="718" width="18" height="18" fill="#00e9ff"/>
<rect x="91" y="718" width="18" height="18" fill="#00fffa"/>
<rect x="109" y="718" width="18" height="18" fill="#00fec9"/>
<rect x="127" y="718" width="18" height="18" fill="#00feb4"/>
<rect x="145" y="718" width="19" height="18" fill="#00fda0"/>
<rect x="164" y="718" width="18" height="18" fill="#00fda6"/>
<rect x="182" y="718" width="18" height="18" fill="#00fdac"/>
<rect x="200" y="718" width="18" height="18" fill="#00fdb0"/>
<rect x="218" y="718" width="18" height="18" fill="#00feb4"/>
<rect x="236" y="718" width="19" height="18" fill="#00fec5"/>
<rect x="255" y="718" width="18" height="18" fill="#00fed6"/>
<rect x="273" y="718" width="18" height="18" fill="#00fff7"/>
<rect x="291" y="718" width="18" height="18" fill="#00f2ff"/>
<rect x="309" y="718" width="18" height="18" fill="#00e1ff"/>
<rect x="327" y="718" width="19" height="18" fill="#00cfff"/>
<rect x="346" y="718" width="18" height="18" fill="#00c6ff"/>
<rect x="364" y="718" width="18" height="18" fill="#00bcff"/>
<rect x="382" y="718" width="18" height="18" fill="#00beff"/>
<rect x="400" y="718" width="18" height="18" fill="#00bfff"/>
<rect x="418" y="718" width="19" height="18" fill="#00a7ff"/>
<rect x="437" y="718" width="18" height="18" fill="#008fff"/>
<rect x="455" y="718" width="18" height="18" fill="#0080ff"/>
<rect x="473" y="718" width="18" height="18" fill="#0070ff"/>
<rect x="491" y="718" width="18" height="18" fill="#0068ff"/>
<rect x="509" y="718" width="19" height="18" fill="#0060ff"/>
<rect x="528" y="718" width="18" height="18" fill="#0063ff"/>
<rect x="546" y="718" width="18" height="18" fill="#0066ff"/>
<rect x="564" y="718" width="18" height="18" fill="#0070ff"/>
<rect x="582" y="718" width="18" height="18" fill="#0079ff"/>
<rect x="600" y="718" width="19" height="18" fill="#0084ff"/>
<rect x="619" y="718" width="18" height="18" fill="#008fff"/>
<rect x="637" y="718" width="18" height="18" fill="#0094ff"/>
<rect x="655" y="718" width="18" height="18" fill="#0099ff"/>
<rect x="673" y="718" width="18" height="18" fill="#008cff"/>
<rect x="691" y="718" width="18" height="18" fill="#0080ff"/>
<rect x="709" y="718" width="19" height="18" fill="#0070ff"/>
<rect x="728" y="718" width="18" height="18" fill="#0060ff"/>
<rect x="746" y="718" width="18" height="18" fill="#0058ff"/>
<rect x="764" y="718" width="18" height="18" fill="#0050ff"/>
<rect x="782" y="718" width="18" height="18" fill="#0048ff"/>
<rect x="0" y="736" width="18" height="18" fill="#006cff"/>
<rect x="18" y="736" width="18" height="18" fill="#0080ff"/>
<rect x="36" y="736" width="18" height="18" fill="#0068ff"/>
<rect x="54" y="736" width="19" height="18" fill="#00a7ff"/>
<rect x="73" y="736" width="18" height="18" fill="#00e7ff"/>
<rect x="91" y="736" width="18" height="18" fill="#00fffd"/>
<rect x="109" y="736" width="18" height="18" fill="#00fecb"/>
<rect x="127" y="736" width="18" height="18" fill="#00feb9"/>
<rect x="145" y="736" width="19" height="18" fill="#00fda6"/>
<rect x="164" y="736" width="18" height="18" fill="#00fdab"/>
<rect x="182" y="736" width="18" height="18" fill="#00fdb0"/>
<rect x="200" y="736" width="18" height="18" fill="#00feb5"/>
<rect x="218" y="736" width="18" height="18" fill="#00febb"/>
<rect x="236" y="736" width="19" height="18" fill="#00fec8"/>
<rect x="255" y="736" width="18" height="18" fill="#00fed6"/>
<rect x="273" y="736" width="18" height="18" fill="#00fff7"/>
<rect x="291" y="736" width="18" height="18" fill="#00f2ff"/>
<rect x="309" y="736" width="18" height="18" fill="#00e1ff"/>
<rect x="327" y="736" width="19" height="18" fill="#00cfff"/>
<rect x="346" y="736" width="18" height="18" fill="#00c7ff"/>
<rect x="364" y="736" width="18" height="18" fill="#00bfff"/>
<rect x="382" y="736" width="18" height="18" fill="#00c6ff"/>
<rect x="400" y="736" width="18" height="18" fill="#00ccff"/>
<rect x="418" y="736" width="19" height="18" fill="#00b3ff"/>
<rect x="437" y="736" width="18" height="18" fill="#009bff"/>
<rect x="455" y="736" width="18" height="18" fill="#008bff"/>
<rect x="473" y="736" width="18" height="18" fill="#007bff"/>
<rect x="491" y="736" width="18" height="18" fill="#0075ff"/>
<rect x="509" y="736" width="19" height="18" fill="#0070ff"/>
<rect x="528" y="736" width="18" height="18" fill="#0071ff"/>
<rect x="546" y="736" width="18" height="18" fill="#0073ff"/>
<rect x="564" y="736" width="18" height="18" fill="#007cff"/>
<rect x="582" y="736" width="18" height="18" fill="#0084ff"/>
<rect x="600" y="736" width="19" height="18" fill="#0094ff"/>
<rect x="619" y="736" width="18" height="18" fill="#00a4ff"/>
<rect x="637" y="736" width="18" height="18" fill="#00a7ff"/>
<rect x="655" y="736" width="18" height="18" fill="#00a9ff"/>
<rect x="673" y="736" width="18" height="18" fill="#009cff"/>
<rect x="691" y="736" width="18" height="18" fill="#008fff"/>
<rect x="709" y="736" width="19" height="18" fill="#0082ff"/>
<rect x="728" y="736" width="18" height="18" fill="#0074ff"/>
<rect x="746" y="736" width="18" height="18" fill="#0070ff"/>
<rect x="764" y="736" width="18" height="18" fill="#006bff"/>
<rect x="782" y="736" width="18" height="18" fill="#0066ff"/>
<rect x="0" y="754" width="18" height="18" fill="#008cff"/>
<rect x="18" y="754" width="18" height="18" fill="#009fff"/>
<rect x="36" y="754" width="18" height="18" fill="#0070ff"/>
<rect x="54" y="754" width="19" height="18" fill="#00abff"/>
<rect x="73" y="754" width="18" height="18" fill="#00e6ff"/>
<rect x="91" y="754" width="18" height="18" fill="#00ffff"/>
<rect x="109" y="754" width="18" height="18" fill="#00fecd"/>
<rect x="127" y="754" width="18" height="18" fill="#00febd"/>
<rect x="145" y="754" width="19" height="18" fill="#00fdac"/>
<rect x="164" y="754" width="18" height="18" fill="#00fdb0"/>
<rect x="182" y="754" width="18" height="18" fill="#00feb4"/>
<rect x="200" y="754" width="18" height="18" fill="#00febb"/>
<rect x="218" y="754" width="18" height="18" fill="#00fec1"/>
<rect x="236" y="754" width="19" height="18" fill="#00fecb"/>
<rect x="255" y="754" width="18" height="18" fill="#00fed6"/>
<rect x="273" y="754" width="18" height="18" fill="#00fff7"/>
<rect x="291" y="754" width="18" height="18" fill="#00f2ff"/>
<rect x="309" y="754" width="18" height="18" fill="#00e1ff"/>
<rect x="327" y="754" width="19" height="18" fill="#00cfff"/>
<rect x="346" y="754" width="18" height="18" fill="#00c9ff"/>
<rect x="364" y="754" width="18" height="18" fill="#00c2ff"/>
<rect x="382" y="754" width="18" height="18" fill="#00ceff"/>
<rect x="400" y="754" width="18" height="18" fill="#00d9ff"/>
<rect x="418" y="754" width="19" height="18" fill="#00bfff"/>
<rect x="437" y="754" width="18" height="18" fill="#00a6ff"/>
<rect x="455" y="754" width="18" height="18" fill="#0096ff"/>
<rect x="473" y="754" width="18" height="18" fill="#0086ff"/>
<rect x="491" y="754" width="18" height="18" fill="#0083ff"/>
<rect x="509" y="754" width="19" height="18" fill="#0080ff"/>
<rect x="528" y="754" width="18" height="18" fill="#0080ff"/>
<rect x="546" y="754" width="18" height="18" fill="#0080ff"/>
<rect x="564" y="754" width="18" height="18" fill="#0087ff"/>
<rect x="582" y="754" width="18" height="18" fill="#008fff"/>
<rect x="600" y="754" width="19" height="18" fill="#00a4ff"/>
<rect x="619" y="754" width="18" height="18" fill="#00b9ff"/>
<rect x="637" y="754" width="18" height="18" fill="#00b9ff"/>
<rect x="655" y="754" width="18" height="18" fill="#00b9ff"/>
<rect x="673" y="754" width="18" height="18" fill="#00acff"/>
<rect x="691" y="754" width="18" height="18" fill="#009fff"/>
<rect x="709" y="754" width="19" height="18" fill="#0094ff"/>
<rect x="728" y="754" width="18" height="18" fill="#0089ff"/>
<rect x="746" y="754" width="18" height="18" fill="#0087ff"/>
<rect x="764" y="754" width="18" height="18" fill="#0086ff"/>
<rect x="782" y="754" width="18" height="18" fill="#0084ff"/>
</g>
<path d="M718.6 36.6L705.7 27.8M708.8 33.8L705.7 27.8L712.4 28.6M773.2 36.6L757.7 25.2M761.3 32.6L757.7 25.2L765.9 26.4M791.4 36.6L775.3 24.4M778.9 32.3L775.3 24.4L783.9 25.8M700.4 54.8L687.6 46.9M690.9 52.5L687.6 46.9L694.1 47.3M718.6 54.8L705.0 46.2M708.4 52.2L705.0 46.2L711.9 46.7M755.0 54.8L739.8 44.6M743.5 51.5L739.8 44.6L747.6 45.4M773.2 54.8L757.2 43.8M761.1 51.2L757.2 43.8L765.5 44.8M791.4 54.8L774.7 43.0M778.7 50.8L774.7 43.0L783.4 44.1M682.2 72.9L668.9 65.5M672.4 71.0L668.9 65.5L675.4 65.6M700.4 72.9L686.4 64.9M690.1 70.8L686.4 64.9L693.3 65.1M718.6 72.9L704.2 64.5M708.0 70.6L704.2 64.5L711.4 64.8M736.8 72.9L722.0 64.1M725.8 70.4L722.0 64.1L729.4 64.4M755.0 72.9L739.4 63.3M743.3 70.1L739.4 63.3L747.2 63.8M773.2 72.9L756.8 62.5M760.9 69.7L756.8 62.5L765.1 63.1M791.4 72.9L774.1 61.6M778.4 69.4L774.1 61.6L783.0 62.4M664.0 91.1L654.0 86.0M656.8 90.0L654.0 86.0L658.8 85.9M682.2 91.1L668.4 84.0M672.2 89.5L668.4 84.0L675.1 83.9M700.4 91.1L686.0 83.5M689.9 89.3L686.0 83.5L693.0 83.5M718.6 91.1L703.8 83.1M707.8 89.1L703.8 83.1L711.0 83.1M736.8 91.1L721.6 82.7M725.7 88.9L721.6 82.7L729.1 82.8M755.0 91.1L739.1 82.0M743.3 88.7L739.1 82.0L747.0 82.3M773.2 91.1L756.6 81.4M761.0 88.4L756.6 81.4L764.9 81.7M791.4 91.1L774.2 80.7M778.6 88.1L774.2 80.7L782.8 81.2M682.2 109.3L667.9 102.4M672.0 107.9L667.9 102.4L674.7 102.1M700.4 109.3L685.7 102.1M689.8 107.8L685.7 102.1L692.7 101.8M718.6 109.3L703.4 101.7M707.7 107.6L703.4 101.7L710.7 101.5M736.8 109.3L721.2 101.3M725.5 107.5L721.2 101.3L728.7 101.2M755.0 109.3L738.9 100.8M743.3 107.2L738.9 100.8L746.7 100.7M773.2 109.3L756.6 100.2M761.0 107.0L756.6 100.2L764.7 100.3M791.4 109.3L774.3 99.7M778.8 106.8L774.3 99.7L782.7 99.9M664.0 127.4L650.5 121.7M654.4 126.6L650.5 121.7L656.8 121.1M682.2 127.4L668.2 121.3M672.3 126.4L668.2 121.3L674.8 120.8M700.4 127.4L686.0 120.9M690.1 126.3L686.0 120.9L692.8 120.5M718.6 127.4L703.6 120.4M707.9 126.1L703.6 120.4L710.7 120.1M736.8 127.4L721.3 119.9M725.6 125.9L721.3 119.9L728.7 119.6M755.0 127.4L739.1 119.5M743.5 125.7L739.1 119.5L746.7 119.3M773.2 127.4L757.0 119.1M761.4 125.5L757.0 119.1L764.8 119.0M791.4 127.4L774.9 118.6M779.4 125.3L774.9 118.6L782.9 118.6M645.8 145.6L632.9 140.8M636.9 145.2L632.9 140.8L638.8 140.0M664.0 145.6L650.8 140.5M654.8 145.1L650.8 140.5L656.8 139.8M682.2 145.6L668.6 140.1M672.6 144.9L668.6 140.1L674.8 139.4M700.4 145.6L686.3 139.7M690.5 144.8L686.3 139.7L692.9 139.1M718.6 145.6L703.8 139.1M708.1 144.6L703.8 139.1L710.7 138.6M736.8 145.6L721.4 138.6M725.8 144.3L721.4 138.6L728.6 138.1M755.0 145.6L739.4 138.2M743.8 144.2L739.4 138.2L746.8 137.9M773.2 145.6L757.4 137.9M761.9 144.0L757.4 137.9L765.0 137.6M791.4 145.6L775.5 137.6M779.9 143.8L775.5 137.6L783.1 137.4M645.8 163.8L633.0 159.6M637.0 163.7L633.0 159.6L638.7 158.6M664.0 163.8L650.8 159.2M654.9 163.6L650.8 159.2L656.7 158.2M682.2 163.8L668.6 158.8M672.7 163.4L668.6 158.8L674.8 157.9M700.4 163.8L686.4 158.3M690.6 163.2L686.4 158.3L692.8 157.6M718.6 163.8L704.0 157.8M708.3 163.0L704.0 157.8L710.7 157.1M736.8 163.8L721.6 157.2M726.0 162.8L721.6 157.2L728.7 156.6M755.0 163.8L739.6 156.9M744.0 162.6L739.6 156.9L746.8 156.4M773.2 163.8L757.5 156.5M762.0 162.4L757.5 156.5L764.9 156.1M791.4 163.8L775.5 156.2M780.0 162.3L775.5 156.2L783.1 155.9M627.6 181.9L615.3 178.7M619.3 182.4L615.3 178.7L620.6 177.4M645.8 181.9L633.0 178.3M637.1 182.3L633.0 178.3L638.6 177.1M664.0 181.9L650.7 177.9M655.0 182.1L650.7 177.9L656.6 176.7M682.2 181.9L668.6 177.4M672.9 181.9L668.6 177.4L674.7 176.4M700.4 181.9L686.5 177.0M690.8 181.7L686.5 177.0L692.8 176.1M718.6 181.9L704.2 176.4M708.5 181.4L704.2 176.4L710.8 175.6M736.8 181.9L721.9 175.9M726.3 181.2L721.9 175.9L728.7 175.2M755.0 181.9L739.7 175.5M744.2 181.0L739.7 175.5L746.8 174.9M773.2 181.9L757.6 175.2M762.2 180.9L757.6 175.2L764.9 174.6M791.4 181.9L775.5 174.8M780.1 180.7L775.5 174.8L783.0 174.3M609.4 200.1L597.3 197.8M601.4 201.1L597.3 197.8L602.4 196.2M627.6 200.1L614.5 197.3M618.9 201.0L614.5 197.3L620.0 195.7M645.8 200.1L632.1 196.9M636.7 200.9L632.1 196.9L637.9 195.3M664.0 200.1L649.8 196.5M654.4 200.7L649.8 196.5L655.9 195.0M682.2 200.1L667.7 196.0M672.4 200.5L667.7 196.0L674.0 194.6M700.4 200.1L685.7 195.5M690.3 200.2L685.7 195.5L692.2 194.3M718.6 200.1L703.7 195.0M708.3 199.9L703.7 195.0L710.4 193.9M736.8 200.1L721.7 194.5M726.3 199.7L721.7 194.5L728.5 193.6M755.0 200.1L739.8 194.1M744.4 199.5L739.8 194.1L746.7 193.3M773.2 200.1L757.9 193.8M762.4 199.3L757.9 193.8L765.0 193.1M791.4 200.1L776.0 193.4M780.5 199.1L776.0 193.4L783.2 192.9M591.2 218.3L580.1 216.9M584.0 219.7L580.1 216.9L584.6 215.2M609.4 218.3L596.9 216.5M601.3 219.7L596.9 216.5L602.0 214.6M627.6 218.3L613.7 216.0M618.5 219.7L613.7 216.0L619.4 214.0M645.8 218.3L631.2 215.6M636.2 219.5L631.2 215.6L637.3 213.7M664.0 218.3L648.8 215.2M653.9 219.4L648.8 215.2L655.2 213.3M682.2 218.3L666.8 214.6M671.9 219.1L666.8 214.6L673.4 212.9M700.4 218.3L684.8 214.1M689.9 218.8L684.8 214.1L691.6 212.5M718.6 218.3L703.2 213.6M708.1 218.5L703.2 213.6L710.0 212.3M736.8 218.3L721.5 213.1M726.3 218.2L721.5 213.1L728.3 212.0M755.0 218.3L739.8 212.8M744.5 217.9L739.8 212.8L746.7 211.8M773.2 218.3L758.2 212.4M762.7 217.7L758.2 212.4L765.0 211.6M791.4 218.3L776.5 212.1M780.9 217.4L776.5 212.1L783.4 211.4M573.0 236.4L562.4 235.7M566.3 238.1L562.4 235.7L566.6 233.8M591.2 236.4L579.4 235.5M583.7 238.2L579.4 235.5L584.0 233.5M609.4 236.4L596.5 235.2M601.1 238.3L596.5 235.2L601.6 233.0M627.6 236.4L613.6 234.8M618.6 238.3L613.6 234.8L619.2 232.6M645.8 236.4L631.3 234.5M636.4 238.1L631.3 234.5L637.2 232.3M664.0 236.4L649.1 234.1M654.3 238.0L649.1 234.1L655.2 232.0M682.2 236.4L667.2 233.6M672.3 237.7L667.2 233.6L673.5 231.6M700.4 236.4L685.4 233.0M690.4 237.3L685.4 233.0L691.8 231.3M718.6 236.4L703.6 232.5M708.5 237.0L703.6 232.5L710.1 230.9M736.8 236.4L721.8 231.9M726.6 236.6L721.8 231.9L728.4 230.6M755.0 236.4L740.0 231.4M744.7 236.3L740.0 231.4L746.7 230.3M773.2 236.4L758.3 231.0M762.9 236.0L758.3 231.0L765.1 230.0M791.4 236.4L776.6 230.5M781.0 235.7L776.6 230.5L783.4 229.8M554.8 254.6L545.3 254.5M548.9 256.4L545.3 254.5L548.9 252.6M573.0 254.6L561.8 254.3M566.0 256.7L561.8 254.3L566.1 252.2M591.2 254.6L578.6 254.2M583.3 256.9L578.6 254.2L583.5 251.8M609.4 254.6L596.1 253.9M601.0 256.9L596.1 253.9L601.3 251.5M627.6 254.6L613.5 253.6M618.7 256.8L613.5 253.6L619.0 251.1M645.8 254.6L631.4 253.3M636.6 256.7L631.4 253.3L637.1 250.9M664.0 254.6L649.4 253.0M654.6 256.6L649.4 253.0L655.2 250.7M682.2 254.6L667.6 252.5M672.7 256.2L667.6 252.5L673.6 250.3M700.4 254.6L685.9 251.9M690.9 255.8L685.9 251.9L692.0 250.0M718.6 254.6L704.0 251.3M708.8 255.5L704.0 251.3L710.2 249.6M736.8 254.6L722.0 250.6M726.8 255.1L722.0 250.6L728.4 249.1M755.0 254.6L740.3 250.1M744.9 254.7L740.3 250.1L746.8 248.8M773.2 254.6L758.5 249.5M763.0 254.4L758.5 249.5L765.1 248.5M791.4 254.6L776.7 248.9M781.1 254.0L776.7 248.9L783.4 248.1M209.1 272.8L207.1 265.2M206.3 268.5L207.1 265.2L209.4 267.6M554.8 272.8L545.4 273.8M549.2 275.3L545.4 273.8L548.7 271.5M573.0 272.8L562.0 273.9M566.4 275.7L562.0 273.9L566.0 271.3M591.2 272.8L579.2 274.0M584.0 276.0L579.2 274.0L583.5 271.1M609.4 272.8L597.1 273.5M601.9 275.7L597.1 273.5L601.6 270.7M627.6 272.8L615.3 272.9M620.0 275.3L615.3 272.9L619.9 270.4M645.8 272.8L632.9 272.3M637.7 275.1L632.9 272.3L637.9 269.9M664.0 272.8L649.3 271.6M654.6 275.0L649.3 271.6L655.1 269.1M682.2 272.8L667.6 270.8M672.8 274.5L667.6 270.8L673.5 268.6M700.4 272.8L686.0 270.1M690.9 274.0L686.0 270.1L692.0 268.2M718.6 272.8L704.0 269.3M708.8 273.5L704.0 269.3L710.2 267.7M736.8 272.8L722.1 268.4M726.8 273.0L722.1 268.4L728.5 267.1M755.0 272.8L740.4 267.9M744.9 272.7L740.4 267.9L746.9 266.8M773.2 272.8L758.7 267.4M763.1 272.3L758.7 267.4L765.3 266.5M791.4 272.8L777.0 266.8M781.3 272.0L777.0 266.8L783.6 266.2M209.1 290.9L209.1 288.7M208.4 290.1L209.1 288.7L209.9 290.1M227.3 290.9L227.3 289.7M226.9 290.5L227.3 289.7L227.7 290.5M245.5 290.9L245.3 293.2M246.2 291.8L245.3 293.2L244.7 291.7M263.7 290.9L263.7 294.6M264.9 292.3L263.7 294.6L262.5 292.3M281.9 290.9L279.1 293.7M281.6 292.9L279.1 293.7L279.9 291.2M536.6 290.9L529.5 292.6M532.6 293.4L529.5 292.6L531.9 290.5M554.8 290.9L544.5 293.4M548.9 294.5L544.5 293.4L547.9 290.4M573.0 290.9L562.4 293.5M567.0 294.7L562.4 293.5L565.9 290.4M591.2 290.9L580.6 293.6M585.2 294.7L580.6 293.6L584.1 290.5M609.4 290.9L598.9 292.8M603.3 294.2L598.9 292.8L602.5 290.0M627.6 290.9L617.0 292.0M621.3 293.8L617.0 292.0L620.8 289.5M645.8 290.9L634.0 291.2M638.6 293.5L634.0 291.2L638.4 288.7M664.0 290.9L649.2 290.2M654.7 293.4L649.2 290.2L655.0 287.5M682.2 290.9L667.6 289.2M672.8 292.8L667.6 289.2L673.5 286.9M700.4 290.9L686.1 288.3M691.0 292.2L686.1 288.3L692.0 286.4M718.6 290.9L704.1 287.3M708.8 291.6L704.1 287.3L710.3 285.7M736.8 290.9L722.1 286.3M726.7 291.0L722.1 286.3L728.6 285.1M755.0 290.9L740.5 285.8M744.9 290.6L740.5 285.8L747.0 284.8M773.2 290.9L758.8 285.3M763.1 290.3L758.8 285.3L765.4 284.5M791.4 290.9L777.3 284.8M781.4 289.9L777.3 284.8L783.9 284.2M227.3 309.1L223.4 311.3M226.0 311.2L223.4 311.3L224.8 309.1M245.5 309.1L242.0 316.7M244.8 314.5L242.0 316.7L241.8 313.1M263.7 309.1L258.2 314.6M261.4 313.6L258.2 314.6L259.1 311.4M281.9 309.1L274.5 311.8M277.9 312.2L274.5 311.8L276.8 309.3M300.1 309.1L291.8 310.5M295.3 311.7L291.8 310.5L294.7 308.3M318.3 309.1L310.8 309.7M313.8 311.0L310.8 309.7L313.5 308.0M500.2 309.1L491.5 312.1M495.4 312.7L491.5 312.1L494.2 309.2M518.4 309.1L509.6 312.1M513.5 312.8L509.6 312.1L512.3 309.2M536.6 309.1L527.2 312.5M531.5 313.1L527.2 312.5L530.1 309.3M554.8 309.1L544.9 312.8M549.4 313.4L544.9 312.8L547.9 309.4M573.0 309.1L563.2 313.0M567.7 313.5L563.2 313.0L566.1 309.5M591.2 309.1L581.8 311.6M585.9 312.6L581.8 311.6L584.8 308.8M609.4 309.1L600.5 311.5M604.4 312.4L600.5 311.5L603.4 308.8M627.6 309.1L618.4 311.6M622.4 312.5L618.4 311.6L621.4 308.8M645.8 309.1L634.4 310.6M639.0 312.3L634.4 310.6L638.4 307.7M664.0 309.1L649.4 308.9M654.9 311.9L649.4 308.9L655.0 306.0M682.2 309.1L666.4 307.5M672.1 311.3L666.4 307.5L672.7 304.9M700.4 309.1L684.7 306.2M690.1 310.5L684.7 306.2L691.2 304.2M718.6 309.1L703.4 305.1M708.4 309.7L703.4 305.1L710.0 303.6M736.8 309.1L722.2 304.1M726.7 308.9L722.2 304.1L728.7 303.1M755.0 309.1L740.5 303.6M744.8 308.6L740.5 303.6L747.1 302.7M773.2 309.1L758.7 303.0M763.0 308.2L758.7 303.0L765.4 302.4M791.4 309.1L777.0 302.4M781.1 307.9L777.0 302.4L783.8 302.1M263.7 327.3L256.2 333.6M260.3 332.7L256.2 333.6L257.8 329.6M281.9 327.3L274.4 331.6M278.1 331.5L274.4 331.6L276.4 328.4M300.1 327.3L294.3 330.6M297.2 330.5L294.3 330.6L295.8 328.2M318.3 327.3L313.1 330.1M315.7 330.0L313.1 330.1L314.6 327.9M336.5 327.3L330.8 330.2M333.5 330.3L330.8 330.2L332.3 327.9M354.7 327.3L348.2 330.5M351.3 330.6L348.2 330.5L350.0 327.9M372.9 327.3L366.0 330.5M369.3 330.6L366.0 330.5L368.0 327.9M391.1 327.3L384.1 330.5M387.4 330.7L384.1 330.5L386.1 327.9M409.3 327.3L402.2 330.6M405.5 330.7L402.2 330.6L404.2 327.9M427.5 327.3L420.2 330.6M423.7 330.8L420.2 330.6L422.3 327.9M445.7 327.3L438.3 330.7M441.8 330.9L438.3 330.7L440.4 327.9M463.9 327.3L456.4 330.7M459.9 330.9L456.4 330.7L458.5 327.9M482.0 327.3L474.4 330.8M478.0 331.0L474.4 330.8L476.6 327.9M500.2 327.3L492.4 330.9M496.1 331.1L492.4 330.9L494.6 327.9M518.4 327.3L510.3 331.0M514.2 331.2L510.3 331.0L512.6 328.0M536.6 327.3L527.8 331.6M532.1 331.7L527.8 331.6L530.3 328.2M554.8 327.3L545.4 332.2M550.0 332.2L545.4 332.2L548.0 328.4M573.0 327.3L564.1 332.2M568.5 332.1L564.1 332.2L566.5 328.5M591.2 327.3L582.9 332.4M587.1 332.2L582.9 332.4L585.0 328.8M609.4 327.3L602.5 332.1M606.1 331.6L602.5 332.1L604.2 328.9M627.6 327.3L616.4 334.2M622.1 333.8L616.4 334.2L619.3 329.3M645.8 327.3L630.5 332.8M637.5 333.8L630.5 332.8L635.2 327.6M664.0 327.3L646.7 328.2M653.4 331.3L646.7 328.2L653.1 324.3M682.2 327.3L664.6 325.8M671.0 329.9L664.6 325.8L671.6 322.8M700.4 327.3L683.3 324.2M689.2 328.8L683.3 324.2L690.4 321.9M718.6 327.3L702.8 322.9M707.9 327.8L702.8 322.9L709.6 321.4M736.8 327.3L722.3 322.0M726.7 326.9L722.3 322.0L728.9 321.1M755.0 327.3L740.4 321.4M744.8 326.5L740.4 321.4L747.2 320.7M773.2 327.3L758.6 320.7M762.8 326.2L758.6 320.7L765.4 320.3M791.4 327.3L776.8 320.1M780.9 325.8L776.8 320.1L783.8 319.9M300.1 345.4L295.2 348.2M297.8 348.1L295.2 348.2L296.6 346.0M318.3 345.4L312.9 348.4M315.6 348.4L312.9 348.4L314.3 346.2M336.5 345.4L330.6 348.6M333.5 348.6L330.6 348.6L332.2 346.2M354.7 345.4L348.5 348.6M351.5 348.7L348.5 348.6L350.2 346.2M372.9 345.4L366.3 348.6M369.5 348.7L366.3 348.6L368.2 346.1M391.1 345.4L384.5 348.6M387.6 348.8L384.5 348.6L386.3 346.1M409.3 345.4L402.6 348.6M405.8 348.8L402.6 348.6L404.5 346.1M427.5 345.4L420.8 348.6M424.0 348.7L420.8 348.6L422.7 346.0M445.7 345.4L439.1 348.5M442.2 348.7L439.1 348.5L440.9 346.0M463.9 345.4L457.2 348.6M460.4 348.7L457.2 348.6L459.1 346.0M482.0 345.4L475.4 348.6M478.5 348.8L475.4 348.6L477.2 346.1M500.2 345.4L493.3 348.8M496.6 348.9L493.3 348.8L495.2 346.1M518.4 345.4L511.2 349.0M514.6 349.1L511.2 349.0L513.2 346.2M536.6 345.4L528.7 349.5M532.5 349.6L528.7 349.5L530.9 346.4M554.8 345.4L546.2 350.0M550.4 350.0L546.2 350.0L548.5 346.5M573.0 345.4L564.8 350.0M568.8 350.0L564.8 350.0L567.0 346.6M591.2 345.4L585.0 349.8M588.3 349.4L585.0 349.8L586.5 346.9M609.4 345.4L602.8 350.1M606.2 349.7L602.8 350.1L604.3 347.0M627.6 345.4L615.2 349.9M620.8 350.7L615.2 349.9L619.0 345.7M645.8 345.4L628.7 348.4M635.8 350.7L628.7 348.4L634.6 343.8M664.0 345.4L644.4 345.4M651.8 349.4L644.4 345.4L651.8 341.5M682.2 345.4L662.0 344.7M669.6 349.1L662.0 344.7L669.8 340.9M700.4 345.4L680.8 344.4M688.0 348.7L680.8 344.4L688.5 340.8M718.6 345.4L702.0 340.6M707.3 345.8L702.0 340.6L709.2 339.1M736.8 345.4L721.8 339.6M726.3 344.8L721.8 339.6L728.7 338.8M755.0 345.4L740.3 338.9M744.5 344.3L740.3 338.9L747.2 338.4M773.2 345.4L758.8 338.2M762.8 343.9L758.8 338.2L765.7 338.1M791.4 345.4L777.3 337.6M781.1 343.4L777.3 337.6L784.2 337.7M300.1 363.6L297.0 367.9M299.4 366.8L297.0 367.9L297.4 365.4M318.3 363.6L313.7 366.8M316.3 366.5L313.7 366.8L314.9 364.5M336.5 363.6L331.1 366.6M333.7 366.5L331.1 366.6L332.5 364.3M354.7 363.6L348.8 366.8M351.6 366.8L348.8 366.8L350.4 364.4M372.9 363.6L366.7 366.8M369.7 366.8L366.7 366.8L368.4 364.3M391.1 363.6L384.8 366.8M387.8 366.8L384.8 366.8L386.6 364.3M409.3 363.6L403.0 366.7M406.0 366.8L403.0 366.7L404.7 364.2M427.5 363.6L421.4 366.5M424.3 366.6L421.4 366.5L423.1 364.2M445.7 363.6L439.8 366.3M442.6 366.5L439.8 366.3L441.5 364.1M463.9 363.6L458.0 366.4M460.8 366.5L458.0 366.4L459.7 364.1M482.0 363.6L476.3 366.4M479.0 366.5L476.3 366.4L477.9 364.2M500.2 363.6L494.1 366.7M497.1 366.7L494.1 366.7L495.8 364.3M518.4 363.6L512.0 367.0M515.1 367.0L512.0 367.0L513.8 364.4M536.6 363.6L529.5 367.4M533.0 367.4L529.5 367.4L531.4 364.5M554.8 363.6L547.0 367.9M550.8 367.9L547.0 367.9L549.1 364.7M573.0 363.6L565.5 367.9M569.2 367.8L565.5 367.9L567.5 364.7M591.2 363.6L583.6 367.1M587.2 367.3L583.6 367.1L585.8 364.3M609.4 363.6L600.5 366.8M604.5 367.4L600.5 366.8L603.2 363.8M627.6 363.6L613.3 367.4M619.5 368.9L613.3 367.4L617.9 363.1M645.8 363.6L627.2 366.2M634.8 369.0L627.2 366.2L633.8 361.5M664.0 363.6L643.6 363.6M651.3 367.7L643.6 363.6L651.3 359.5M682.2 363.6L661.8 363.6M669.5 367.7L661.8 363.6L669.5 359.5M700.4 363.6L680.8 362.9M688.1 367.1L680.8 362.9L688.4 359.2M718.6 363.6L701.2 358.3M706.7 363.8L701.2 358.3L708.9 356.8M736.8 363.6L721.3 357.1M725.9 362.7L721.3 357.1L728.5 356.4M755.0 363.6L740.1 356.4M744.3 362.1L740.1 356.4L747.2 356.1M773.2 363.6L758.9 355.8M762.8 361.6L758.9 355.8L765.9 355.9M791.4 363.6L777.8 355.1M781.3 361.1L777.8 355.1L784.7 355.6M281.9 381.8L279.6 384.5M281.9 383.6L279.6 384.5L280.1 382.1M300.1 381.8L296.9 383.6M299.5 383.5L296.9 383.6L298.3 381.4M318.3 381.8L314.9 383.7M317.5 383.6L314.9 383.7L316.3 381.5M336.5 381.8L332.8 383.8M335.4 383.8L332.8 383.8L334.2 381.6M354.7 381.8L350.1 384.3M352.7 384.3L350.1 384.3L351.5 382.1M372.9 381.8L368.1 384.4M370.7 384.4L368.1 384.4L369.5 382.2M391.1 381.8L386.0 384.4M388.6 384.4L386.0 384.4L387.5 382.3M409.3 381.8L403.9 384.5M406.5 384.5L403.9 384.5L405.4 382.4M427.5 381.8L422.3 384.3M424.9 384.4L422.3 384.3L423.8 382.2M445.7 381.8L440.7 384.1M443.3 384.2L440.7 384.1L442.3 382.0M463.9 381.8L459.0 384.1M461.6 384.2L459.0 384.1L460.5 382.0M482.0 381.8L477.3 384.2M479.9 384.2L477.3 384.2L478.8 382.0M500.2 381.8L495.2 384.4M497.8 384.4L495.2 384.4L496.7 382.3M518.4 381.8L513.2 384.7M515.8 384.6L513.2 384.7L514.6 382.5M536.6 381.8L530.5 385.2M533.5 385.1L530.5 385.2L532.2 382.6M554.8 381.8L547.9 385.7M551.3 385.6L547.9 385.7L549.7 382.8M573.0 381.8L565.0 386.4M569.0 386.2L565.0 386.4L567.1 383.0M591.2 381.8L582.3 385.0M586.3 385.6L582.3 385.0L585.0 382.0M609.4 381.8L595.9 385.4M601.8 386.7L595.9 385.4L600.3 381.3M627.6 381.8L610.5 384.8M617.6 387.1L610.5 384.8L616.4 380.2M645.8 381.8L626.3 383.5M634.0 386.8L626.3 383.5L633.3 378.9M664.0 381.8L643.6 381.8M651.3 385.9L643.6 381.8L651.3 377.6M682.2 381.8L662.6 381.1M669.9 385.3L662.6 381.1L670.2 377.4M700.4 381.8L681.7 380.1M688.5 384.5L681.7 380.1L689.1 377.0M718.6 381.8L701.6 376.3M706.9 381.8L701.6 376.3L709.1 374.9M736.8 381.8L721.4 374.9M725.9 380.6L721.4 374.9L728.6 374.4M755.0 381.8L740.2 374.0M744.3 380.0L740.2 374.0L747.4 374.0M773.2 381.8L759.0 373.2M762.7 379.3L759.0 373.2L766.1 373.6M791.4 381.8L777.9 372.4M781.1 378.6L777.9 372.4L784.9 373.2M281.9 399.9L279.5 401.3M281.4 401.3L279.5 401.3L280.5 399.7M300.1 399.9L297.7 401.3M299.6 401.3L297.7 401.3L298.7 399.7M318.3 399.9L315.9 401.3M317.8 401.3L315.9 401.3L316.9 399.7M336.5 399.9L333.4 401.8M335.9 401.7L333.4 401.8L334.7 399.6M354.7 399.9L351.5 401.9M354.1 401.7L351.5 401.9L352.8 399.7M372.9 399.9L369.5 401.9M372.1 401.8L369.5 401.9L370.9 399.7M391.1 399.9L387.1 402.1M389.7 402.0L387.1 402.1L388.6 399.9M409.3 399.9L404.8 402.3M407.4 402.3L404.8 402.3L406.3 400.1M427.5 399.9L423.2 402.0M425.8 402.1L423.2 402.0L424.7 399.9M445.7 399.9L441.6 401.8M444.2 402.0L441.6 401.8L443.2 399.7M463.9 399.9L460.0 401.8M462.6 401.9L460.0 401.8L461.5 399.7M482.0 399.9L478.3 401.9M480.9 401.9L478.3 401.9L479.8 399.7M500.2 399.9L496.3 402.1M498.9 402.0L496.3 402.1L497.7 399.9M518.4 399.9L514.3 402.3M516.9 402.2L514.3 402.3L515.7 400.1M536.6 399.9L531.5 402.9M534.1 402.8L531.5 402.9L532.9 400.7M554.8 399.9L548.8 403.4M551.8 403.3L548.8 403.4L550.4 400.9M573.0 399.9L564.7 405.1M568.9 404.8L564.7 405.1L566.8 401.5M591.2 399.9L579.8 406.5M585.5 406.3L579.8 406.5L582.8 401.7M609.4 399.9L593.7 407.3M601.1 407.7L593.7 407.3L598.2 401.3M627.6 399.9L608.7 405.0M616.9 406.9L608.7 405.0L614.8 399.2M645.8 399.9L626.4 402.7M634.3 405.5L626.4 402.7L633.2 397.7M664.0 399.9L645.2 400.6M652.5 404.1L645.2 400.6L652.2 396.5M682.2 399.9L664.9 399.0M671.3 402.9L664.9 399.0L671.6 395.9M700.4 399.9L683.6 399.0M689.8 402.8L683.6 399.0L690.2 396.0M718.6 399.9L702.0 394.3M707.2 399.8L702.0 394.3L709.4 393.1M736.8 399.9L721.6 392.8M725.9 398.6L721.6 392.8L728.8 392.4M755.0 399.9L740.3 391.7M744.2 397.8L740.3 391.7L747.6 391.9M773.2 399.9L759.2 390.6M762.6 397.0L759.2 390.6L766.4 391.3M791.4 399.9L778.1 389.6M781.1 396.2L778.1 389.6L785.2 390.8M300.1 418.1L297.2 420.5M299.7 420.0L297.2 420.5L298.2 418.1M318.3 418.1L315.3 420.6M317.8 420.1L315.3 420.6L316.3 418.2M336.5 418.1L333.4 420.8M336.0 420.2L333.4 420.8L334.4 418.3M354.7 418.1L351.5 420.9M354.0 420.3L351.5 420.9L352.4 418.5M372.9 418.1L369.3 420.8M371.9 420.4L369.3 420.8L370.4 418.4M391.1 418.1L386.4 420.9M389.0 420.8L386.4 420.9L387.7 418.7M409.3 418.1L403.5 421.0M406.3 421.1L403.5 421.0L405.1 418.8M427.5 418.1L421.7 420.6M424.4 420.8L421.7 420.6L423.4 418.5M445.7 418.1L439.9 420.2M442.5 420.5L439.9 420.2L441.6 418.2M463.9 418.1L458.5 420.1M461.1 420.4L458.5 420.1L460.3 418.1M482.0 418.1L477.2 420.0M479.8 420.3L477.2 420.0L478.9 418.0M500.2 418.1L495.6 420.0M498.2 420.2L495.6 420.0L497.2 418.0M518.4 418.1L513.9 420.0M516.5 420.2L513.9 420.0L515.6 418.0M536.6 418.1L535.4 418.7M536.3 418.7L535.4 418.7L536.0 417.9M554.8 418.1L553.6 418.7M554.6 418.7L553.6 418.7L554.1 417.9M573.0 418.1L571.6 421.1M573.5 419.7L571.6 421.1L571.5 418.8M591.2 418.1L579.8 427.6M586.1 426.3L579.8 427.6L582.2 421.7M609.4 418.1L593.0 428.3M601.3 427.7L593.0 428.3L597.2 421.1M627.6 418.1L608.4 425.1M617.1 426.3L608.4 425.1L614.3 418.5M645.8 418.1L626.9 423.2M635.1 425.1L626.9 423.2L633.0 417.4M664.0 418.1L646.3 420.6M653.5 423.2L646.3 420.6L652.5 416.1M682.2 418.1L665.4 418.7M671.9 421.8L665.4 418.7L671.7 415.1M700.4 418.1L684.2 417.5M690.2 421.0L684.2 417.5L690.4 414.5M718.6 418.1L702.3 413.3M707.5 418.4L702.3 413.3L709.4 411.8M736.8 418.1L721.5 411.7M726.0 417.2L721.5 411.7L728.6 411.1M755.0 418.1L740.1 410.8M744.3 416.6L740.1 410.8L747.2 410.6M773.2 418.1L758.8 409.9M762.6 415.9L758.8 409.9L765.9 410.1M791.4 418.1L777.5 409.1M781.0 415.3L777.5 409.1L784.6 409.7M336.5 436.3L333.7 439.8M336.1 438.7L333.7 439.8L334.2 437.2M354.7 436.3L351.8 440.1M354.2 439.0L351.8 440.1L352.2 437.5M372.9 436.3L369.3 439.8M371.8 439.1L369.3 439.8L370.1 437.3M391.1 436.3L385.6 439.7M388.4 439.5L385.6 439.7L387.0 437.3M409.3 436.3L402.1 439.3M405.4 439.6L402.1 439.3L404.2 436.7M427.5 436.3L419.9 438.2M423.2 439.0L419.9 438.2L422.4 435.9M445.7 436.3L437.9 437.3M441.0 438.5L437.9 437.3L440.6 435.3M463.9 436.3L456.9 436.9M459.7 438.1L456.9 436.9L459.4 435.3M482.0 436.3L475.9 436.8M478.3 437.8L475.9 436.8L478.1 435.4M500.2 436.3L494.7 436.9M497.1 437.8L494.7 436.9L496.8 435.4M518.4 436.3L513.5 437.0M515.9 437.9L513.5 437.0L515.5 435.5M536.6 436.3L535.3 436.6M536.2 436.8L535.3 436.6L536.0 435.9M554.8 436.3L553.5 436.7M554.5 436.9L553.5 436.7L554.2 436.0M573.0 436.3L571.7 439.4M573.6 437.9L571.7 439.4L571.5 437.0M591.2 436.3L579.8 445.8M586.1 444.5L579.8 445.8L582.2 439.9M609.4 436.3L594.0 447.0M602.1 446.0L594.0 447.0L597.7 439.8M627.6 436.3L609.8 444.5M618.3 445.0L609.8 444.5L614.9 437.8M645.8 436.3L628.0 442.1M635.9 443.5L628.0 442.1L633.6 436.3M664.0 436.3L646.9 439.3M654.0 441.6L646.9 439.3L652.8 434.7M682.2 436.3L665.7 437.7M672.3 440.5L665.7 437.7L671.7 433.8M700.4 436.3L684.4 436.3M690.5 439.5L684.4 436.3L690.5 433.0M718.6 436.3L702.5 432.3M707.8 437.0L702.5 432.3L709.4 430.6M736.8 436.3L721.5 430.7M726.2 435.9L721.5 430.7L728.4 429.7M755.0 436.3L740.0 430.0M744.4 435.4L740.0 430.0L747.0 429.3M773.2 436.3L758.5 429.3M762.7 434.9L758.5 429.3L765.5 429.0M791.4 436.3L777.1 428.6M780.9 434.4L777.1 428.6L784.0 428.6M336.5 454.4L333.3 460.0M335.7 458.5L333.3 460.0L333.4 457.3M354.7 454.4L351.4 460.6M353.9 458.9L351.4 460.6L351.4 457.6M372.9 454.4L368.3 460.2M371.2 459.0L368.3 460.2L368.9 457.1M391.1 454.4L384.4 459.2M387.9 458.7L384.4 459.2L386.0 456.0M409.3 454.4L401.0 457.9M404.9 458.3L401.0 457.9L403.4 454.9M427.5 454.4L418.7 456.4M422.4 457.4L418.7 456.4L421.6 453.9M445.7 454.4L436.7 455.2M440.3 456.7L436.7 455.2L440.0 453.1M463.9 454.4L455.5 455.0M458.8 456.4L455.5 455.0L458.6 453.1M482.0 454.4L474.4 454.9M477.4 456.2L474.4 454.9L477.2 453.1M500.2 454.4L492.8 454.9M495.7 456.2L492.8 454.9L495.5 453.2M518.4 454.4L511.2 455.1M514.1 456.3L511.2 455.1L513.8 453.4M536.6 454.4L530.3 455.5M532.9 456.4L530.3 455.5L532.5 453.8M554.8 454.4L547.3 456.5M550.5 457.2L547.3 456.5L549.7 454.2M573.0 454.4L562.6 458.6M567.4 459.1L562.6 458.6L565.7 454.9M591.2 454.4L578.0 460.9M584.3 461.1L578.0 460.9L581.7 455.8M609.4 454.4L594.1 460.8M601.2 461.5L594.1 460.8L598.6 455.3M627.6 454.4L610.1 460.4M617.9 461.6L610.1 460.4L615.6 454.6M645.8 454.4L628.7 458.6M636.0 460.5L628.7 458.6L634.3 453.5M664.0 454.4L647.4 456.8M654.2 459.3L647.4 456.8L653.2 452.6M682.2 454.4L666.1 454.9M672.3 457.9L666.1 454.9L672.1 451.4M700.4 454.4L685.0 453.1M690.6 456.7L685.0 453.1L691.1 450.5M718.6 454.4L703.6 451.4M708.7 455.6L703.6 451.4L709.9 449.5M736.8 454.4L722.4 449.9M726.9 454.5L722.4 449.9L728.8 448.7M755.0 454.4L740.7 449.4M745.1 454.2L740.7 449.4L747.2 448.4M773.2 454.4L759.1 448.9M763.3 453.8L759.1 448.9L765.6 448.1M791.4 454.4L777.5 448.4M781.5 453.5L777.5 448.4L784.0 447.9M336.5 472.6L332.8 480.1M335.7 478.0L332.8 480.1L332.7 476.5M354.7 472.6L350.8 480.8M353.9 478.5L350.8 480.8L350.6 476.9M372.9 472.6L367.3 480.7M371.1 478.7L367.3 480.7L367.8 476.5M391.1 472.6L383.3 478.7M387.5 478.0L383.3 478.7L385.0 474.8M409.3 472.6L400.0 476.6M404.4 477.0L400.0 476.6L402.7 473.2M427.5 472.6L417.6 474.7M421.8 475.9L417.6 474.7L420.9 471.9M445.7 472.6L435.6 473.2M439.5 475.0L435.6 473.2L439.3 470.9M463.9 472.6L454.2 473.0M457.9 474.8L454.2 473.0L457.8 470.9M482.0 472.6L472.8 472.9M476.4 474.6L472.8 472.9L476.3 470.9M500.2 472.6L490.9 472.8M494.5 474.6L490.9 472.8L494.4 470.9M518.4 472.6L508.9 472.8M512.6 474.7L508.9 472.8L512.5 470.8M536.6 472.6L524.9 473.8M529.6 475.7L524.9 473.8L529.1 471.0M554.8 472.6L541.1 475.3M546.9 477.1L541.1 475.3L545.8 471.5M573.0 472.6L557.7 477.6M564.5 478.8L557.7 477.6L562.5 472.6M591.2 472.6L574.8 480.4M582.6 480.8L574.8 480.4L579.4 474.1M609.4 472.6L593.7 480.3M601.2 480.5L593.7 480.3L598.1 474.2M627.6 472.6L612.3 479.6M619.6 480.0L612.3 479.6L616.7 473.9M645.8 472.6L630.9 477.6M637.6 478.7L630.9 477.6L635.6 472.7M664.0 472.6L649.7 475.5M655.7 477.2L649.7 475.5L654.6 471.5M682.2 472.6L667.9 473.6M673.5 476.1L667.9 473.6L673.2 470.3M700.4 472.6L686.4 471.9M691.6 475.0L686.4 471.9L691.8 469.4M718.6 472.6L704.8 470.4M709.6 474.0L704.8 470.4L710.5 468.4M736.8 472.6L723.3 469.0M727.7 473.1L723.3 469.0L729.1 467.6M755.0 472.6L741.5 468.7M745.8 472.9L741.5 468.7L747.4 467.4M773.2 472.6L759.8 468.4M764.0 472.7L759.8 468.4L765.7 467.3M791.4 472.6L778.1 468.1M782.2 472.5L778.1 468.1L784.0 467.1M318.3 490.8L314.9 499.9M318.0 497.1L314.9 499.9L314.3 495.7M336.5 490.8L332.4 499.5M335.7 497.0L332.4 499.5L332.2 495.4M354.7 490.8L350.3 499.7M353.7 497.2L350.3 499.7L350.1 495.4M372.9 490.8L367.3 499.5M371.2 497.3L367.3 499.5L367.7 495.1M391.1 490.8L383.4 497.6M387.7 496.6L383.4 497.6L384.9 493.4M409.3 490.8L400.1 495.2M404.5 495.4L400.1 495.2L402.7 491.7M427.5 490.8L417.4 493.1M421.7 494.2L417.4 493.1L420.8 490.2M445.7 490.8L435.3 491.5M439.4 493.3L435.3 491.5L439.1 489.2M463.9 490.8L453.7 491.0M457.6 493.0L453.7 491.0L457.5 488.9M482.0 490.8L472.1 490.8M475.9 492.8L472.1 490.8L475.9 488.8M500.2 490.8L490.2 490.9M494.1 492.9L490.2 490.9L494.0 488.8M518.4 490.8L508.4 491.3M512.3 493.1L508.4 491.3L512.1 489.0M536.6 490.8L525.4 492.3M530.0 494.0L525.4 492.3L529.4 489.4M554.8 490.8L542.6 494.0M547.9 495.2L542.6 494.0L546.6 490.3M573.0 490.8L559.8 496.4M566.0 496.9L559.8 496.4L563.7 491.6M591.2 490.8L577.4 499.1M584.3 498.7L577.4 499.1L581.0 493.1M609.4 490.8L596.2 499.3M602.9 498.7L596.2 499.3L599.5 493.4M627.6 490.8L614.8 499.3M621.4 498.6L614.8 499.3L617.9 493.4M645.8 490.8L632.9 497.1M639.1 497.3L632.9 497.1L636.5 492.1M664.0 490.8L651.2 494.5M656.8 495.6L651.2 494.5L655.3 490.5M682.2 490.8L669.2 492.6M674.5 494.5L669.2 492.6L673.7 489.3M700.4 490.8L687.4 491.1M692.4 493.6L687.4 491.1L692.3 488.3M718.6 490.8L705.6 489.6M710.3 492.7L705.6 489.6L710.8 487.4M736.8 490.8L724.0 488.3M728.4 491.8L724.0 488.3L729.3 486.7M755.0 490.8L742.2 488.2M746.5 491.7L742.2 488.2L747.6 486.6M773.2 490.8L760.4 488.1M764.7 491.7L760.4 488.1L765.8 486.5M791.4 490.8L778.7 487.9M782.9 491.6L778.7 487.9L784.0 486.4M300.1 508.9L297.9 519.9M301.0 516.2L297.9 519.9L296.5 515.3M318.3 508.9L315.4 519.6M318.6 516.1L315.4 519.6L314.3 515.0M336.5 508.9L332.7 519.2M336.2 516.0L332.7 519.2L332.1 514.5M354.7 508.9L350.4 519.0M354.0 516.0L350.4 519.0L350.0 514.3M372.9 508.9L368.0 518.7M371.8 516.0L368.0 518.7L367.9 514.0M391.1 508.9L384.5 517.3M388.7 515.5L384.5 517.3L385.3 512.8M409.3 508.9L401.2 515.5M405.6 514.6L401.2 515.5L403.0 511.4M427.5 508.9L418.1 513.7M422.6 513.8L418.1 513.7L420.7 510.0M445.7 508.9L435.5 512.0M439.9 512.9L435.5 512.0L438.7 508.7M463.9 508.9L453.5 511.4M457.9 512.6L453.5 511.4L456.9 508.4M482.0 508.9L471.6 511.1M476.0 512.4L471.6 511.1L475.1 508.2M500.2 508.9L489.9 511.2M494.3 512.5L489.9 511.2L493.3 508.3M518.4 508.9L508.1 511.6M512.6 512.7L508.1 511.6L511.5 508.5M536.6 508.9L526.4 512.7M531.0 513.3L526.4 512.7L529.5 509.2M554.8 508.9L544.8 514.0M549.6 514.1L544.8 514.0L547.6 510.0M573.0 508.9L562.5 515.8M567.8 515.3L562.5 515.8L565.1 511.0M591.2 508.9L580.0 517.4M586.0 516.4L580.0 517.4L582.6 511.9M609.4 508.9L597.9 516.9M603.9 516.2L597.9 516.9L600.7 511.5M627.6 508.9L616.0 516.8M622.0 516.1L616.0 516.8L618.8 511.5M645.8 508.9L634.4 515.2M640.0 515.1L634.4 515.2L637.5 510.5M664.0 508.9L652.7 513.0M657.8 513.7L652.7 513.0L656.1 509.1M682.2 508.9L670.4 511.4M675.4 512.8L670.4 511.4L674.4 508.1M700.4 508.9L688.4 510.1M693.2 512.0L688.4 510.1L692.7 507.2M718.6 508.9L706.5 508.8M711.1 511.3L706.5 508.8L711.1 506.4M736.8 508.9L724.8 507.6M729.1 510.5L724.8 507.6L729.6 505.7M755.0 508.9L743.0 507.6M747.3 510.5L743.0 507.6L747.8 505.7M773.2 508.9L761.2 507.6M765.5 510.5L761.2 507.6L766.0 505.7M791.4 508.9L779.4 507.7M783.7 510.6L779.4 507.7L784.2 505.7M281.9 527.1L280.5 540.2M283.7 535.5L280.5 540.2L278.4 535.0M300.1 527.1L298.6 539.9M301.8 535.3L298.6 539.9L296.6 534.7M318.3 527.1L316.3 539.1M319.5 535.0L316.3 539.1L314.6 534.1M336.5 527.1L333.9 538.3M337.1 534.6L333.9 538.3L332.6 533.5M354.7 527.1L351.6 538.0M354.9 534.5L351.6 538.0L350.5 533.2M372.9 527.1L369.4 537.7M372.9 534.4L369.4 537.7L368.6 533.0M391.1 527.1L386.3 536.9M390.1 534.1L386.3 536.9L386.1 532.2M409.3 527.1L403.2 535.8M407.3 533.7L403.2 535.8L403.7 531.3M427.5 527.1L420.1 534.7M424.4 533.3L420.1 534.7L421.3 530.3M445.7 527.1L437.2 533.5M441.7 532.8L437.2 533.5L439.1 529.4M463.9 527.1L455.5 533.3M459.9 532.6L455.5 533.3L457.4 529.3M482.0 527.1L473.8 533.1M478.1 532.5L473.8 533.1L475.7 529.2M500.2 527.1L492.1 533.0M496.4 532.4L492.1 533.0L494.0 529.1M518.4 527.1L510.4 533.0M514.7 532.4L510.4 533.0L512.3 529.1M536.6 527.1L529.0 533.3M533.2 532.5L529.0 533.3L530.6 529.4M554.8 527.1L547.6 533.7M551.7 532.6L547.6 533.7L549.0 529.7M573.0 527.1L565.9 534.1M570.0 532.9L565.9 534.1L567.2 530.0M591.2 527.1L584.1 534.4M588.3 533.1L584.1 534.4L585.3 530.2M609.4 527.1L601.7 533.5M605.9 532.6L601.7 533.5L603.3 529.5M627.6 527.1L619.6 532.8M623.8 532.2L619.6 532.8L621.5 529.0M645.8 527.1L637.3 532.1M641.5 531.9L637.3 532.1L639.5 528.5M664.0 527.1L654.8 530.9M659.1 531.3L654.8 530.9L657.5 527.6M682.2 527.1L672.3 529.9M676.6 530.8L672.3 529.9L675.5 526.8M700.4 527.1L689.9 528.8M694.2 530.3L689.9 528.8L693.5 526.1M718.6 527.1L707.8 527.7M712.0 529.7L707.8 527.7L711.8 525.3M736.8 527.1L725.9 526.7M729.9 529.0L725.9 526.7L730.1 524.6M755.0 527.1L743.7 526.8M747.9 529.2L743.7 526.8L748.0 524.7M773.2 527.1L761.5 527.0M765.9 529.4L761.5 527.0L766.0 524.7M791.4 527.1L779.4 527.2M784.0 529.6L779.4 527.2L783.9 524.7M263.7 545.3L263.4 561.2M266.8 555.2L263.4 561.2L260.3 555.1M281.9 545.3L281.5 560.5M284.7 554.8L281.5 560.5L278.6 554.6M300.1 545.3L299.6 559.8M302.7 554.4L299.6 559.8L296.8 554.2M318.3 545.3L317.3 558.5M320.4 553.7L317.3 558.5L315.0 553.3M336.5 545.3L335.1 557.2M338.1 553.0L335.1 557.2L333.2 552.4M354.7 545.3L352.9 556.9M356.0 552.8L352.9 556.9L351.3 552.1M372.9 545.3L370.8 556.6M373.9 552.7L370.8 556.6L369.3 551.9M391.1 545.3L387.7 555.9M391.2 552.6L387.7 555.9L386.8 551.2M409.3 545.3L404.6 555.2M408.4 552.3L404.6 555.2L404.4 550.5M427.5 545.3L421.6 554.3M425.7 552.1L421.6 554.3L422.0 549.7M445.7 545.3L438.8 553.4M443.1 551.7L438.8 553.4L439.8 548.9M463.9 545.3L457.3 553.1M461.3 551.4L457.3 553.1L458.2 548.8M482.0 545.3L475.7 552.8M479.6 551.2L475.7 552.8L476.6 548.6M500.2 545.3L494.1 552.5M497.9 551.0L494.1 552.5L495.0 548.5M518.4 545.3L512.5 552.3M516.2 550.8L512.5 552.3L513.3 548.4M536.6 545.3L531.1 552.1M534.6 550.6L531.1 552.1L531.8 548.4M554.8 545.3L549.7 551.9M553.0 550.4L549.7 551.9L550.3 548.4M573.0 545.3L568.7 551.3M571.6 549.9L568.7 551.3L569.1 548.1M591.2 545.3L587.7 550.6M590.1 549.3L587.7 550.6L587.9 547.9M609.4 545.3L605.8 550.1M608.1 549.0L605.8 550.1L606.2 547.5M627.6 545.3L623.9 549.5M626.3 548.5L623.9 549.5L624.5 546.9M645.8 545.3L640.7 549.6M643.5 549.0L640.7 549.6L641.7 546.9M664.0 545.3L657.1 549.0M660.5 549.0L657.1 549.0L659.0 546.2M682.2 545.3L674.2 548.2M677.8 548.7L674.2 548.2L676.6 545.5M700.4 545.3L691.4 547.4M695.2 548.4L691.4 547.4L694.4 544.8M718.6 545.3L709.1 546.5M713.0 547.9L709.1 546.5L712.5 544.1M736.8 545.3L727.0 545.6M730.8 547.5L727.0 545.6L730.6 543.5M755.0 545.3L744.5 545.9M748.6 547.8L744.5 545.9L748.3 543.6M773.2 545.3L762.0 546.3M766.4 548.1L762.0 546.3L766.0 543.6M791.4 545.3L779.5 546.6M784.3 548.5L779.5 546.6L783.8 543.7M245.5 563.4L245.3 580.2M248.8 573.9L245.3 580.2L242.0 573.8M263.7 563.4L263.3 580.2M266.8 573.9L263.3 580.2L260.0 573.8M281.9 563.4L281.3 579.5M284.8 573.5L281.3 579.5L278.3 573.3M300.1 563.4L299.3 578.8M302.7 573.1L299.3 578.8L296.5 572.8M318.3 563.4L317.1 577.4M320.4 572.3L317.1 577.4L314.7 571.8M336.5 563.4L335.0 575.9M338.1 571.5L335.0 575.9L333.0 570.9M354.7 563.4L352.8 575.5M356.0 571.3L352.8 575.5L351.1 570.5M372.9 563.4L370.7 575.0M373.9 571.0L370.7 575.0L369.2 570.2M391.1 563.4L387.7 574.5M391.2 571.0L387.7 574.5L386.7 569.6M409.3 563.4L404.7 573.8M408.5 570.8L404.7 573.8L404.3 568.9M427.5 563.4L421.8 572.9M425.9 570.4L421.8 572.9L422.1 568.1M445.7 563.4L439.2 571.9M443.3 570.0L439.2 571.9L439.9 567.4M463.9 563.4L457.6 571.5M461.6 569.7L457.6 571.5L458.3 567.2M482.0 563.4L476.0 571.1M479.9 569.4L476.0 571.1L476.7 567.0M500.2 563.4L494.5 570.7M498.1 569.1L494.5 570.7L495.2 566.8M518.4 563.4L512.9 570.3M516.4 568.8L512.9 570.3L513.6 566.6M536.6 563.4L532.4 570.7M535.5 568.8L532.4 570.7L532.6 567.1M554.8 563.4L550.6 570.7M553.7 568.8L550.6 570.7L550.8 567.1M573.0 563.4L568.8 570.7M571.9 568.8L568.8 570.7L568.9 567.1M591.2 563.4L587.7 570.1M590.4 568.3L587.7 570.1L587.7 566.9M609.4 563.4L607.0 570.0M609.3 568.0L607.0 570.0L606.6 567.0M627.6 563.4L625.2 570.0M627.5 568.0L625.2 570.0L624.8 567.0M645.8 563.4L642.1 571.3M645.1 569.0L642.1 571.3L641.9 567.6M664.0 563.4L657.6 572.6M661.9 570.4L657.6 572.6L658.2 567.8M682.2 563.4L673.0 568.1M677.4 568.2L673.0 568.1L675.5 564.5M700.4 563.4L691.4 566.7M695.5 567.3L691.4 566.7L694.2 563.7M718.6 563.4L709.4 565.8M713.4 566.7L709.4 565.8L712.4 563.0M736.8 563.4L727.5 564.9M731.3 566.2L727.5 564.9L730.7 562.5M755.0 563.4L745.5 564.9M749.4 566.3L745.5 564.9L748.8 562.4M773.2 563.4L763.5 564.9M767.5 566.3L763.5 564.9L766.9 562.4M791.4 563.4L781.5 564.9M785.5 566.4L781.5 564.9L784.9 562.4M209.1 581.6L209.5 598.8M212.8 592.2L209.5 598.8L205.9 592.3M227.3 581.6L227.3 599.2M230.9 592.5L227.3 599.2L223.8 592.5M245.5 581.6L245.2 599.2M248.9 592.6L245.2 599.2L241.8 592.5M263.7 581.6L263.1 599.2M266.9 592.7L263.1 599.2L259.8 592.4M281.9 581.6L281.0 598.5M284.8 592.3L281.0 598.5L277.9 591.9M300.1 581.6L299.0 597.8M302.7 591.9L299.0 597.8L296.1 591.4M318.3 581.6L316.8 596.2M320.3 591.0L316.8 596.2L314.4 590.4M336.5 581.6L334.8 594.6M338.1 590.0L334.8 594.6L332.8 589.3M354.7 581.6L352.7 594.0M355.9 589.7L352.7 594.0L350.9 588.9M372.9 581.6L370.6 593.4M373.8 589.4L370.6 593.4L369.1 588.5M391.1 581.6L387.6 593.0M391.2 589.4L387.6 593.0L386.6 588.0M409.3 581.6L404.7 592.4M408.6 589.2L404.7 592.4L404.2 587.4M427.5 581.6L422.0 591.4M426.1 588.8L422.0 591.4L422.1 586.6M445.7 581.6L439.6 590.3M443.6 588.2L439.6 590.3L440.1 585.8M463.9 581.6L457.9 589.9M461.8 587.9L457.9 589.9L458.5 585.5M482.0 581.6L476.3 589.5M480.0 587.7L476.3 589.5L476.9 585.3M500.2 581.6L494.8 588.9M498.3 587.2L494.8 588.9L495.4 585.0M518.4 581.6L513.2 588.2M516.5 586.7L513.2 588.2L513.9 584.6M536.6 581.6L531.8 588.5M535.0 586.8L531.8 588.5L532.3 584.9M554.8 581.6L550.0 588.5M553.2 586.8L550.0 588.5L550.4 584.9M573.0 581.6L568.2 588.5M571.4 586.8L568.2 588.5L568.6 584.9M591.2 581.6L587.7 587.7M590.3 586.1L587.7 587.7L587.8 584.6M609.4 581.6L607.0 588.2M609.3 586.2L607.0 588.2L606.6 585.2M627.6 581.6L625.2 588.2M627.5 586.2L625.2 588.2L624.8 585.2M645.8 581.6L640.9 590.1M644.5 587.8L640.9 590.1L641.0 585.9M664.0 581.6L655.9 591.2M660.9 589.2L655.9 591.2L657.0 585.9M682.2 581.6L673.0 587.5M677.7 587.1L673.0 587.5L675.3 583.4M700.4 581.6L691.6 586.0M695.9 586.1L691.6 586.0L694.1 582.6M718.6 581.6L709.8 585.0M713.8 585.5L709.8 585.0L712.5 581.9M736.8 581.6L728.2 584.1M731.9 584.9L728.2 584.1L730.9 581.4M755.0 581.6L746.6 583.7M750.2 584.6L746.6 583.7L749.3 581.2M773.2 581.6L765.0 583.4M768.4 584.4L765.0 583.4L767.7 581.1M791.4 581.6L783.4 583.1M786.7 584.1L783.4 583.1L786.1 580.9M136.3 599.8L140.3 618.1M142.5 610.3L140.3 618.1L135.1 611.9M154.5 599.8L157.0 618.5M159.9 610.9L157.0 618.5L152.3 611.9M172.7 599.8L174.6 618.8M177.7 611.2L174.6 618.8L170.1 611.9M190.9 599.8L192.2 619.0M195.6 611.5L192.2 619.0L187.8 612.0M209.1 599.8L209.8 619.3M213.5 611.7L209.8 619.3L205.6 612.0M227.3 599.8L227.3 619.5M231.3 612.0L227.3 619.5L223.3 612.0M245.5 599.8L245.1 619.3M249.2 612.0L245.1 619.3L241.3 611.8M263.7 599.8L262.9 619.1M267.1 611.9L262.9 619.1L259.3 611.6M281.9 599.8L280.7 617.9M284.8 611.3L280.7 617.9L277.5 610.8M300.1 599.8L298.6 616.8M302.6 610.6L298.6 616.8L295.7 610.0M318.3 599.8L316.5 615.2M320.3 609.7L316.5 615.2L314.1 609.0M336.5 599.8L334.5 613.6M338.0 608.8L334.5 613.6L332.4 607.9M354.7 599.8L352.4 612.9M355.9 608.4L352.4 612.9L350.6 607.5M372.9 599.8L370.3 612.2M373.8 608.0L370.3 612.2L368.8 607.0M391.1 599.8L387.4 612.0M391.3 608.1L387.4 612.0L386.3 606.6M409.3 599.8L404.4 611.7M408.7 608.1L404.4 611.7L403.9 606.2M427.5 599.8L421.9 610.5M426.2 607.5L421.9 610.5L421.9 605.3M445.7 599.8L439.6 609.2M443.8 606.8L439.6 609.2L440.0 604.4M463.9 599.8L457.9 608.7M462.0 606.5L457.9 608.7L458.4 604.1M482.0 599.8L476.3 608.2M480.2 606.2L476.3 608.2L476.8 603.8M500.2 599.8L494.7 607.4M498.3 605.6L494.7 607.4L495.3 603.4M518.4 599.8L512.7 606.3M516.2 605.0L512.7 606.3L513.6 602.6M536.6 599.8L528.7 602.6M532.3 603.1L528.7 602.6L531.2 599.9M554.8 599.8L549.8 601.6M552.4 601.9L549.8 601.6L551.6 599.6M573.0 599.8L568.0 601.6M570.6 601.9L568.0 601.6L569.8 599.6M591.2 599.8L588.0 602.9M590.5 602.2L588.0 602.9L588.8 600.4M609.4 599.8L607.9 604.0M609.8 602.2L607.9 604.0L607.5 601.4M627.6 599.8L624.3 609.0M627.4 606.1L624.3 609.0L623.7 604.8M645.8 599.8L637.3 609.8M642.6 607.7L637.3 609.8L638.5 604.3M664.0 599.8L655.0 610.5M660.6 608.2L655.0 610.5L656.3 604.6M682.2 599.8L673.2 606.9M678.1 606.0L673.2 606.9L675.2 602.4M700.4 599.8L692.8 604.8M696.7 604.4L692.8 604.8L694.7 601.3M718.6 599.8L711.0 603.8M714.7 603.8L711.0 603.8L713.1 600.7M736.8 599.8L729.4 602.9M732.8 603.2L729.4 602.9L731.6 600.2M755.0 599.8L748.2 602.1M751.3 602.6L748.2 602.1L750.3 599.9M773.2 599.8L767.1 601.5M769.8 602.1L767.1 601.5L769.1 599.6M791.4 599.8L786.0 601.0M788.5 601.6L786.0 601.0L788.0 599.3M27.2 617.9L42.4 626.2M38.3 620.0L42.4 626.2L35.0 626.1M45.4 617.9L59.4 628.6M56.2 621.7L59.4 628.6L51.9 627.4M63.6 617.9L76.4 631.4M74.3 623.7L76.4 631.4L68.8 628.9M81.8 617.9L93.0 634.0M92.0 625.6L93.0 634.0L85.5 630.2M100.0 617.9L109.6 635.5M109.5 626.8L109.6 635.5L102.4 630.8M118.1 617.9L126.0 636.8M126.8 628.0L126.0 636.8L119.2 631.2M136.3 617.9L142.2 637.8M144.0 629.1L142.2 637.8L135.9 631.4M154.5 617.9L158.2 638.6M161.0 630.0L158.2 638.6L152.7 631.5M172.7 617.9L175.5 639.2M178.8 630.5L175.5 639.2L170.2 631.7M190.9 617.9L192.8 639.7M196.5 631.0L192.8 639.7L187.7 631.8M209.1 617.9L210.1 639.7M214.1 631.3L210.1 639.7L205.3 631.7M227.3 617.9L227.3 639.8M231.7 631.5L227.3 639.8L222.9 631.5M245.5 617.9L245.0 639.3M249.5 631.3L245.0 639.3L240.8 631.1M263.7 617.9L262.6 638.9M267.3 631.2L262.6 638.9L258.8 630.7M281.9 617.9L280.4 637.3M284.9 630.3L280.4 637.3L277.0 629.7M300.1 617.9L298.2 635.7M302.5 629.4L298.2 635.7L295.3 628.6M318.3 617.9L316.2 634.2M320.2 628.4L316.2 634.2L313.7 627.6M336.5 617.9L334.2 632.6M338.0 627.5L334.2 632.6L332.1 626.6M354.7 617.9L352.1 631.8M355.9 627.1L352.1 631.8L350.3 626.0M372.9 617.9L370.1 631.1M373.8 626.6L370.1 631.1L368.5 625.5M391.1 617.9L387.2 631.1M391.3 626.9L387.2 631.1L386.0 625.3M409.3 617.9L404.2 631.0M408.8 627.0L404.2 631.0L403.5 625.0M427.5 617.9L421.9 629.5M426.4 626.3L421.9 629.5L421.7 624.0M445.7 617.9L439.8 628.1M444.1 625.4L439.8 628.1L440.0 623.1M463.9 617.9L458.0 627.5M462.2 625.0L458.0 627.5L458.3 622.7M482.0 617.9L476.3 626.9M480.3 624.6L476.3 626.9L476.7 622.3M500.2 617.9L494.8 626.1M498.5 624.1L494.8 626.1L495.2 621.9M518.4 617.9L513.2 625.2M516.6 623.5L513.2 625.2L513.7 621.4M536.6 617.9L530.7 623.9M534.1 622.8L530.7 623.9L531.7 620.4M554.8 617.9L550.5 622.3M553.0 621.5L550.5 622.3L551.2 619.8M573.0 617.9L572.7 619.6M573.5 618.7L572.7 619.6L572.4 618.5M591.2 617.9L591.2 616.7M590.8 617.5L591.2 616.7L591.6 617.5M609.4 617.9L609.4 622.4M610.6 620.1L609.4 622.4L608.2 620.1M627.6 617.9L623.6 626.6M626.9 624.1L623.6 626.6L623.4 622.5M645.8 617.9L638.1 628.9M643.2 626.3L638.1 628.9L638.8 623.2M664.0 617.9L656.4 628.7M661.5 626.1L656.4 628.7L657.1 623.1M682.2 617.9L674.3 625.8M678.9 624.4L674.3 625.8L675.7 621.2M700.4 617.9L693.9 623.3M697.5 622.6L693.9 623.3L695.3 620.0M718.6 617.9L712.3 622.3M715.5 621.9L712.3 622.3L713.8 619.4M736.8 617.9L730.7 621.4M733.7 621.3L730.7 621.4L732.3 618.9M755.0 617.9L749.9 620.3M752.5 620.4L749.9 620.3L751.5 618.2M773.2 617.9L769.2 619.4M771.8 619.7L769.2 619.4L771.0 617.4M791.4 617.9L788.7 618.6M790.6 619.1L788.7 618.6L790.1 617.3M9.0 636.1L25.5 643.8M20.8 637.5L25.5 643.8L17.7 644.2M27.2 636.1L45.7 644.7M40.4 637.7L45.7 644.7L36.9 645.2M45.4 636.1L57.1 649.6M55.4 642.1L57.1 649.6L49.9 646.9M63.6 636.1L75.0 651.6M73.8 643.4L75.0 651.6L67.6 648.0M81.8 636.1L92.8 653.4M92.1 644.6L92.8 653.4L85.1 649.1M100.0 636.1L109.6 655.2M109.8 646.0L109.6 655.2L102.1 649.9M118.1 636.1L126.1 656.9M127.3 647.4L126.1 656.9L118.9 650.6M136.3 636.1L142.2 658.2M144.4 648.6L142.2 658.2L135.5 651.0M154.5 636.1L158.3 659.2M161.5 649.7L158.3 659.2L152.2 651.2M172.7 636.1L175.5 659.8M179.2 650.2L175.5 659.8L169.7 651.3M190.9 636.1L192.8 660.2M197.0 650.7L192.8 660.2L187.2 651.4M209.1 636.1L210.0 660.2M214.5 650.8L210.0 660.2L204.8 651.2M227.3 636.1L227.2 660.0M232.1 651.0L227.2 660.0L222.4 650.9M245.5 636.1L244.8 659.5M249.8 650.7L244.8 659.5L240.4 650.4M263.7 636.1L262.5 658.9M267.5 650.5L262.5 658.9L258.3 650.0M281.9 636.1L280.2 657.2M285.1 649.5L280.2 657.2L276.6 648.9M300.1 636.1L298.0 655.6M302.8 648.6L298.0 655.6L294.9 647.8M318.3 636.1L316.0 654.0M320.5 647.7L316.0 654.0L313.2 646.7M336.5 636.1L334.0 652.4M338.2 646.7L334.0 652.4L331.6 645.7M354.7 636.1L352.0 651.3M356.1 646.0L352.0 651.3L349.9 645.0M372.9 636.1L370.0 650.1M373.9 645.3L370.0 650.1L368.3 644.2M391.1 636.1L387.3 650.1M391.5 645.5L387.3 650.1L385.9 644.0M409.3 636.1L404.5 650.0M409.1 645.7L404.5 650.0L403.5 643.8M427.5 636.1L422.3 648.5M426.8 644.8L422.3 648.5L421.8 642.7M445.7 636.1L440.3 647.0M444.5 644.0L440.3 647.0L440.1 641.8M463.9 636.1L458.8 646.3M462.8 643.5L458.8 646.3L458.6 641.4M482.0 636.1L477.3 645.6M481.0 643.0L477.3 645.6L477.2 641.1M500.2 636.1L495.8 644.9M499.3 642.5L495.8 644.9L495.7 640.7M518.4 636.1L514.4 644.2M517.6 642.0L514.4 644.2L514.3 640.3M536.6 636.1L535.9 645.0M537.9 641.8L535.9 645.0L534.3 641.5M554.8 636.1L554.8 641.4M556.0 639.1L554.8 641.4L553.6 639.1M573.0 636.1L573.6 637.7M573.8 636.5L573.6 637.7L572.7 636.9M591.2 636.1L590.8 635.0M590.7 635.8L590.8 635.0L591.4 635.5M609.4 636.1L609.8 640.6M610.8 638.2L609.8 640.6L608.4 638.4M627.6 636.1L624.2 645.6M627.4 642.7L624.2 645.6L623.6 641.3M645.8 636.1L640.9 648.3M645.2 644.7L640.9 648.3L640.3 642.7M664.0 636.1L658.7 647.5M663.0 644.3L658.7 647.5L658.4 642.1M682.2 636.1L676.2 644.9M680.3 642.8L676.2 644.9L676.7 640.4M700.4 636.1L695.1 642.6M698.4 641.2L695.1 642.6L695.8 639.1M718.6 636.1L713.4 641.5M716.5 640.5L713.4 641.5L714.3 638.4M736.8 636.1L731.9 640.5M734.6 639.8L731.9 640.5L732.8 637.8M755.0 636.1L750.9 639.2M753.4 638.8L750.9 639.2L751.9 636.9M773.2 636.1L770.0 638.1M772.6 637.9L770.0 638.1L771.3 635.9M791.4 636.1L789.3 637.2M790.9 637.2L789.3 637.2L790.2 635.8M9.0 654.3L24.7 661.6M20.2 655.6L24.7 661.6L17.3 662.0M27.2 654.3L45.1 664.6M40.4 657.1L45.1 664.6L36.2 664.3M45.4 654.3L53.9 670.3M53.9 662.5L53.9 670.3L47.4 666.0M63.6 654.3L73.2 671.6M73.1 663.1L73.2 671.6L66.0 667.0M81.8 654.3L92.5 672.9M92.2 663.7L92.5 672.9L84.7 668.0M100.0 654.3L109.5 675.0M110.0 665.2L109.5 675.0L101.7 669.0M118.1 654.3L126.0 677.0M127.6 666.8L126.0 677.0L118.4 669.9M136.3 654.3L142.2 678.5M144.9 668.1L142.2 678.5L135.1 670.5M154.5 654.3L158.2 679.9M162.0 669.4L158.2 679.9L151.6 670.9M172.7 654.3L175.4 680.3M179.7 669.9L175.4 680.3L169.1 671.0M190.9 654.3L192.7 680.8M197.4 670.4L192.7 680.8L186.7 671.1M209.1 654.3L209.9 680.6M214.9 670.4L209.9 680.6L204.3 670.7M227.3 654.3L227.1 680.3M232.4 670.5L227.1 680.3L221.9 670.4M245.5 654.3L244.7 679.6M250.1 670.1L244.7 679.6L239.9 669.8M263.7 654.3L262.3 678.8M267.8 669.8L262.3 678.8L257.9 669.2M281.9 654.3L280.1 677.1M285.4 668.8L280.1 677.1L276.1 668.1M300.1 654.3L297.9 675.4M303.0 667.8L297.9 675.4L294.4 666.9M318.3 654.3L315.8 673.8M320.7 666.9L315.8 673.8L312.8 665.9M336.5 654.3L333.8 672.3M338.5 666.0L333.8 672.3L331.2 664.9M354.7 654.3L351.9 670.7M356.2 665.0L351.9 670.7L349.6 663.9M372.9 654.3L370.0 669.1M374.1 664.1L370.0 669.1L368.1 662.9M391.1 654.3L387.4 669.1M391.8 664.2L387.4 669.1L385.8 662.7M409.3 654.3L404.8 669.0M409.5 664.3L404.8 669.0L403.5 662.5M427.5 654.3L422.8 667.4M427.2 663.4L422.8 667.4L421.9 661.5M445.7 654.3L440.8 665.9M445.0 662.5L440.8 665.9L440.3 660.5M463.9 654.3L459.6 665.1M463.4 661.8L459.6 665.1L459.1 660.1M482.0 654.3L478.4 664.3M481.8 661.2L478.4 664.3L477.8 659.7M500.2 654.3L497.0 663.7M500.2 660.7L497.0 663.7L496.4 659.5M518.4 654.3L515.7 663.1M518.5 660.3L515.7 663.1L514.9 659.2M536.6 654.3L536.6 663.2M538.4 659.8L536.6 663.2L534.8 659.8M554.8 654.3L554.8 660.4M556.1 658.1L554.8 660.4L553.6 658.1M573.0 654.3L573.9 656.6M574.1 654.9L573.9 656.6L572.6 655.4M591.2 654.3L592.1 655.7M592.0 654.5L592.1 655.7L591.1 655.1M609.4 654.3L609.9 659.6M610.9 657.2L609.9 659.6L608.5 657.4M627.6 654.3L625.2 663.2M627.9 660.3L625.2 663.2L624.3 659.3M645.8 654.3L642.1 665.7M645.8 662.1L642.1 665.7L641.2 660.6M664.0 654.3L660.0 665.3M663.7 661.9L660.0 665.3L659.3 660.3M682.2 654.3L678.4 663.6M681.7 660.8L678.4 663.6L678.0 659.3M700.4 654.3L696.7 661.8M699.6 659.7L696.7 661.8L696.6 658.2M718.6 654.3L714.9 660.5M717.5 658.9L714.9 660.5L715.0 657.4M736.8 654.3L733.2 659.3M735.6 658.1L733.2 659.3L733.6 656.7M755.0 654.3L752.0 658.0M754.4 656.9L752.0 658.0L752.5 655.4M773.2 654.3L770.9 656.7M773.1 656.0L770.9 656.7L771.5 654.5M791.4 654.3L789.9 655.6M791.3 655.2L789.9 655.6L790.4 654.3M9.0 672.4L14.3 672.4M12.0 671.2L14.3 672.4L12.0 673.6M27.2 672.4L32.4 681.4M32.2 676.9L32.4 681.4L28.6 679.0M45.4 672.4L49.1 686.7M50.5 680.5L49.1 686.7L44.8 682.0M63.6 672.4L70.2 689.3M71.1 681.6L70.2 689.3L64.3 684.2M81.8 672.4L91.7 691.6M91.8 682.3L91.7 691.6L84.1 686.3M100.0 672.4L108.8 693.7M109.7 683.9L108.8 693.7L101.1 687.4M118.1 672.4L125.5 695.9M127.4 685.5L125.5 695.9L118.0 688.5M136.3 672.4L141.8 697.5M144.8 686.9L141.8 697.5L134.6 689.1M154.5 672.4L157.8 698.9M161.9 688.2L157.8 698.9L151.2 689.5M172.7 672.4L175.1 699.0M179.6 688.4L175.1 699.0L168.8 689.4M190.9 672.4L192.4 699.0M197.2 688.6L192.4 699.0L186.5 689.2M209.1 672.4L209.7 698.7M214.8 688.6L209.7 698.7L204.2 688.9M227.3 672.4L227.0 698.5M232.4 688.6L227.0 698.5L221.9 688.5M245.5 672.4L244.6 697.6M250.0 688.2L244.6 697.6L239.9 687.9M263.7 672.4L262.3 696.8M267.7 687.8L262.3 696.8L257.9 687.2M281.9 672.4L280.0 695.2M285.3 686.9L280.0 695.2L276.1 686.2M300.1 672.4L297.9 693.6M303.0 686.0L297.9 693.6L294.4 685.1M318.3 672.4L315.8 692.0M320.7 685.1L315.8 692.0L312.8 684.1M336.5 672.4L333.9 690.4M338.5 684.1L333.9 690.4L331.2 683.1M354.7 672.4L351.9 689.0M356.3 683.3L351.9 689.0L349.6 682.2M372.9 672.4L370.1 687.6M374.2 682.4L370.1 687.6L368.1 681.3M391.1 672.4L387.7 687.7M392.0 682.6L387.7 687.7L385.9 681.2M409.3 672.4L405.3 687.7M409.9 682.7L405.3 687.7L403.7 681.1M427.5 672.4L423.4 686.0M427.7 681.7L423.4 686.0L422.2 680.0M445.7 672.4L441.6 684.4M445.6 680.6L441.6 684.4L440.7 679.0M463.9 672.4L460.7 683.4M464.1 679.9L460.7 683.4L459.7 678.6M482.0 672.4L479.6 682.4M482.6 679.1L479.6 682.4L478.5 678.1M500.2 672.4L498.4 681.9M501.0 678.7L498.4 681.9L497.2 677.9M518.4 672.4L517.1 681.4M519.4 678.3L517.1 681.4L515.8 677.7M536.6 672.4L536.6 681.7M538.5 678.2L536.6 681.7L534.8 678.2M554.8 672.4L555.1 680.0M556.5 677.1L555.1 680.0L553.5 677.2M573.0 672.4L574.6 678.4M575.2 675.8L574.6 678.4L572.8 676.4M591.2 672.4L592.3 678.5M593.1 676.0L592.3 678.5L590.7 676.4M609.4 672.4L609.7 680.3M611.2 677.2L609.7 680.3L608.0 677.3M627.6 672.4L626.8 681.9M629.0 678.5L626.8 681.9L625.2 678.1M645.8 672.4L644.0 682.9M646.8 679.3L644.0 682.9L642.5 678.6M664.0 672.4L662.1 682.9M665.0 679.3L662.1 682.9L660.7 678.6M682.2 672.4L680.5 682.1M683.1 678.8L680.5 682.1L679.2 678.1M700.4 672.4L698.4 680.6M700.8 677.9L698.4 680.6L697.5 677.1M718.6 672.4L716.3 679.4M718.6 677.2L716.3 679.4L715.8 676.3M736.8 672.4L734.5 678.1M736.5 676.4L734.5 678.1L734.2 675.5M755.0 672.4L752.9 676.9M755.0 675.4L752.9 676.9L752.7 674.3M773.2 672.4L771.4 675.8M773.6 674.3L771.4 675.8L771.4 673.2M791.4 672.4L790.0 674.6M791.6 673.7L790.0 674.6L790.1 672.8M9.0 690.6L11.1 687.0M8.9 688.3L11.1 687.0L11.0 689.6M27.2 690.6L27.2 698.4M28.8 695.5L27.2 698.4L25.6 695.5M45.4 690.6L45.8 701.8M47.9 697.4L45.8 701.8L43.4 697.6M63.6 690.6L67.5 706.5M69.2 699.7L67.5 706.5L62.8 701.3M81.8 690.6L90.8 710.2M91.3 700.9L90.8 710.2L83.4 704.6M100.0 690.6L108.1 712.5M109.4 702.5L108.1 712.5L100.6 705.8M118.1 690.6L124.9 714.8M127.2 704.2L124.9 714.8L117.5 707.0M136.3 690.6L141.3 716.4M144.6 705.6L141.3 716.4L134.2 707.6M154.5 690.6L157.5 717.9M161.9 707.0L157.5 717.9L150.8 708.1M172.7 690.6L174.8 717.6M179.4 706.9L174.8 717.6L168.5 707.7M190.9 690.6L192.1 717.2M197.0 706.8L192.1 717.2L186.3 707.3M209.1 690.6L209.5 716.9M214.7 706.8L209.5 716.9L204.0 707.0M227.3 690.6L226.9 716.6M232.3 706.8L226.9 716.6L221.8 706.7M245.5 690.6L244.5 715.7M250.0 706.4L244.5 715.7L239.8 706.0M263.7 690.6L262.2 714.8M267.7 705.9L262.2 714.8L257.9 705.3M281.9 690.6L280.0 713.3M285.3 705.0L280.0 713.3L276.2 704.3M300.1 690.6L297.9 711.8M303.0 704.2L297.9 711.8L294.4 703.3M318.3 690.6L315.9 710.2M320.8 703.2L315.9 710.2L312.8 702.3M336.5 690.6L334.0 708.6M338.6 702.3L334.0 708.6L331.3 701.3M354.7 690.6L352.0 707.3M356.4 701.5L352.0 707.3L349.7 700.4M372.9 690.6L370.2 706.0M374.3 700.7L370.2 706.0L368.1 699.6M391.1 690.6L388.0 706.2M392.3 700.9L388.0 706.2L386.0 699.7M409.3 690.6L405.8 706.5M410.3 701.1L405.8 706.5L403.9 699.7M427.5 690.6L424.0 704.6M428.2 700.0L424.0 704.6L422.5 698.6M445.7 690.6L442.4 702.8M446.1 698.8L442.4 702.8L441.2 697.5M463.9 690.6L461.7 701.6M464.7 697.9L461.7 701.6L460.3 697.0M482.0 690.6L480.8 700.3M483.2 696.9L480.8 700.3L479.3 696.4M500.2 690.6L499.6 700.0M501.8 696.5L499.6 700.0L498.0 696.3M518.4 690.6L518.4 699.6M520.3 696.2L518.4 699.6L516.6 696.2M536.6 690.6L539.0 699.3M539.8 695.5L539.0 699.3L536.3 696.4M554.8 690.6L557.9 699.0M558.4 695.2L557.9 699.0L555.0 696.4M573.0 690.6L576.4 698.9M576.8 695.1L576.4 698.9L573.4 696.4M591.2 690.6L594.3 699.0M594.8 695.2L594.3 699.0L591.4 696.4M609.4 690.6L611.7 699.3M612.6 695.5L611.7 699.3L609.1 696.4M627.6 690.6L629.4 700.5M630.7 696.4L629.4 700.5L626.7 697.1M645.8 690.6L647.6 700.5M648.9 696.4L647.6 700.5L644.9 697.1M664.0 690.6L664.9 700.6M666.6 696.6L664.9 700.6L662.5 697.0M682.2 690.6L682.4 700.1M684.2 696.5L682.4 700.1L680.4 696.5M700.4 690.6L700.0 699.0M701.8 695.9L700.0 699.0L698.5 695.7M718.6 690.6L717.8 697.8M719.5 695.2L717.8 697.8L716.6 694.9M736.8 690.6L735.7 696.7M737.3 694.6L735.7 696.7L734.9 694.1M755.0 690.6L753.8 695.7M755.5 693.7L753.8 695.7L753.2 693.1M773.2 690.6L772.1 694.7M773.9 692.8L772.1 694.7L771.5 692.1M791.4 690.6L790.4 693.7M792.0 692.1L790.4 693.7L790.0 691.4M9.0 708.8L6.3 707.8M7.7 709.3L6.3 707.8L8.3 707.5M27.2 708.8L26.7 714.1M28.1 711.9L26.7 714.1L25.7 711.7M45.4 708.8L45.0 718.6M47.1 714.9L45.0 718.6L43.2 714.8M63.6 708.8L66.2 723.9M68.3 717.6L66.2 723.9L62.2 718.7M81.8 708.8L89.3 728.4M90.4 719.4L89.3 728.4L82.5 722.4M100.0 708.8L106.8 730.7M108.6 721.0L106.8 730.7L99.8 723.7M118.1 708.8L123.9 733.0M126.6 722.6L123.9 733.0L116.8 725.0M136.3 708.8L140.6 734.4M144.2 723.8L140.6 734.4L133.8 725.5M154.5 708.8L157.2 735.7M161.6 724.9L157.2 735.7L150.7 726.0M172.7 708.8L174.6 735.4M179.2 724.9L174.6 735.4L168.5 725.6M190.9 708.8L192.0 735.1M196.9 724.9L192.0 735.1L186.3 725.3M209.1 708.8L209.4 734.8M214.6 724.9L209.4 734.8L204.0 725.0M227.3 708.8L226.9 734.6M232.3 724.9L226.9 734.6L221.8 724.7M245.5 708.8L244.6 733.8M250.0 724.5L244.6 733.8L239.9 724.1M263.7 708.8L262.3 732.9M267.7 724.0L262.3 732.9L257.9 723.5M281.9 708.8L280.1 731.4M285.4 723.2L280.1 731.4L276.2 722.5M300.1 708.8L298.0 729.9M303.0 722.3L298.0 729.9L294.5 721.5M318.3 708.8L316.0 728.4M320.8 721.4L316.0 728.4L312.9 720.5M336.5 708.8L334.1 726.8M338.7 720.4L334.1 726.8L331.4 719.5M354.7 708.8L352.2 725.7M356.6 719.8L352.2 725.7L349.7 718.8M372.9 708.8L370.3 724.7M374.5 719.1L370.3 724.7L368.1 718.1M391.1 708.8L388.3 724.8M392.6 719.3L388.3 724.8L386.1 718.2M409.3 708.8L406.3 725.0M410.7 719.4L406.3 725.0L404.1 718.2M427.5 708.8L424.7 723.0M428.6 718.2L424.7 723.0L422.8 717.1M445.7 708.8L443.1 721.1M446.6 716.9L443.1 721.1L441.6 715.9M463.9 708.8L462.3 719.9M465.1 716.0L462.3 719.9L460.7 715.3M482.0 708.8L481.4 718.5M483.6 715.0L481.4 718.5L479.7 714.7M500.2 708.8L500.2 718.0M502.1 714.5L500.2 718.0L498.4 714.5M518.4 708.8L519.0 717.4M520.5 714.0L519.0 717.4L517.0 714.3M536.6 708.8L540.9 717.9M541.1 713.6L540.9 717.9L537.4 715.3M554.8 708.8L559.6 717.7M559.6 713.3L559.6 717.7L556.0 715.2M573.0 708.8L578.1 717.5M577.9 713.2L578.1 717.5L574.4 715.2M591.2 708.8L596.5 718.7M596.5 713.8L596.5 718.7L592.5 716.0M609.4 708.8L614.1 718.9M614.4 714.1L614.1 718.9L610.3 716.0M627.6 708.8L631.8 719.1M632.3 714.4L631.8 719.1L628.1 716.1M645.8 708.8L649.6 719.3M650.3 714.5L649.6 719.3L646.1 716.1M664.0 708.8L667.5 719.4M668.3 714.7L667.5 719.4L664.0 716.1M682.2 708.8L683.7 719.6M685.3 715.2L683.7 719.6L681.0 715.8M700.4 708.8L701.4 718.5M703.0 714.6L701.4 718.5L699.1 715.0M718.6 708.8L719.2 717.3M720.7 713.9L719.2 717.3L717.2 714.2M736.8 708.8L737.0 716.0M738.4 713.2L737.0 716.0L735.5 713.3M755.0 708.8L755.0 715.2M756.3 712.7L755.0 715.2L753.7 712.8M773.2 708.8L773.1 714.4M774.3 712.1L773.1 714.4L771.9 712.1M791.4 708.8L791.2 713.5M792.5 711.3L791.2 713.5L790.1 711.2M9.0 726.9L5.6 731.0M8.0 730.0L5.6 731.0L6.1 728.5M27.2 726.9L22.1 732.9M25.3 731.7L22.1 732.9L22.8 729.6M45.4 726.9L44.4 735.3M46.5 732.3L44.4 735.3L43.1 731.9M63.6 726.9L65.1 741.3M67.4 735.5L65.1 741.3L61.6 736.1M81.8 726.9L87.8 746.4M89.5 737.8L87.8 746.4L81.6 740.3M100.0 726.9L105.6 748.8M107.9 739.4L105.6 748.8L99.0 741.6M118.1 726.9L123.0 751.2M126.1 741.0L123.0 751.2L116.2 743.0M136.3 726.9L140.0 752.3M143.7 742.0L140.0 752.3L133.5 743.4M154.5 726.9L156.9 753.4M161.3 742.9L156.9 753.4L150.7 743.8M172.7 726.9L174.4 753.2M179.0 742.9L174.4 753.2L168.4 743.5M190.9 726.9L191.8 753.0M196.8 742.9L191.8 753.0L186.2 743.3M209.1 726.9L209.4 752.8M214.5 742.9L209.4 752.8L204.0 743.0M227.3 726.9L226.9 752.6M232.2 742.9L226.9 752.6L221.9 742.8M245.5 726.9L244.6 751.9M250.0 742.6L244.6 751.9L239.9 742.2M263.7 726.9L262.3 751.1M267.7 742.2L262.3 751.1L258.0 741.7M281.9 726.9L280.2 749.6M285.4 741.4L280.2 749.6L276.2 740.7M300.1 726.9L298.1 748.1M303.1 740.5L298.1 748.1L294.6 739.7M318.3 726.9L316.1 746.6M320.9 739.5L316.1 746.6L313.0 738.7M336.5 726.9L334.3 745.0M338.8 738.6L334.3 745.0L331.5 737.7M354.7 726.9L352.3 744.1M356.7 738.1L352.3 744.1L349.8 737.1M372.9 726.9L370.4 743.3M374.7 737.6L370.4 743.3L368.1 736.6M391.1 726.9L388.6 743.4M392.9 737.6L388.6 743.4L386.2 736.7M409.3 726.9L406.8 743.5M411.1 737.7L406.8 743.5L404.4 736.7M427.5 726.9L425.3 741.5M429.1 736.4L425.3 741.5L423.2 735.5M445.7 726.9L443.8 739.4M447.0 735.0L443.8 739.4L442.0 734.3M463.9 726.9L463.0 738.1M465.6 734.0L463.0 738.1L461.1 733.7M482.0 726.9L482.0 736.7M484.0 733.0L482.0 736.7L480.0 733.0M500.2 726.9L500.8 736.0M502.4 732.4L500.8 736.0L498.8 732.7M518.4 726.9L519.5 735.3M520.8 731.9L519.5 735.3L517.4 732.3M536.6 726.9L538.2 735.5M539.3 731.9L538.2 735.5L535.8 732.5M554.8 726.9L556.8 735.7M557.8 732.0L556.8 735.7L554.3 732.7M573.0 726.9L575.6 736.4M576.5 732.3L575.6 736.4L572.7 733.3M591.2 726.9L594.4 737.1M595.3 732.6L594.4 737.1L591.2 733.9M609.4 726.9L612.8 738.0M613.8 733.1L612.8 738.0L609.3 734.5M627.6 726.9L631.1 739.0M632.2 733.7L631.1 739.0L627.4 735.1M645.8 726.9L649.3 739.5M650.5 734.0L649.3 739.5L645.4 735.4M664.0 726.9L667.5 739.9M668.8 734.3L667.5 739.9L663.5 735.7M682.2 726.9L685.4 738.8M686.6 733.7L685.4 738.8L681.8 735.0M700.4 726.9L703.3 737.7M704.4 733.1L703.3 737.7L700.0 734.2M718.6 726.9L721.1 736.4M722.1 732.3L721.1 736.4L718.3 733.3M736.8 726.9L739.0 735.0M739.8 731.5L739.0 735.0L736.5 732.4M755.0 726.9L757.1 734.3M757.8 731.1L757.1 734.3L754.8 731.9M773.2 726.9L775.1 733.6M775.7 730.7L775.1 733.6L773.0 731.5M791.4 726.9L793.2 733.0M793.7 730.3L793.2 733.0L791.3 731.0M9.0 745.1L2.2 751.8M6.2 750.6L2.2 751.8L3.4 747.9M27.2 745.1L19.3 753.0M23.9 751.6L19.3 753.0L20.7 748.4M45.4 745.1L43.6 754.0M46.1 751.0L43.6 754.0L42.5 750.3M63.6 745.1L64.1 759.8M66.8 754.1L64.1 759.8L60.9 754.3M81.8 745.1L86.5 764.8M88.7 756.4L86.5 764.8L80.7 758.3M100.0 745.1L104.4 767.1M107.2 757.9L104.4 767.1L98.3 759.7M118.1 745.1L122.1 769.5M125.5 759.4L122.1 769.5L115.7 761.0M136.3 745.1L139.4 770.4M143.3 760.2L139.4 770.4L133.1 761.4M154.5 745.1L156.6 771.3M161.1 760.9L156.6 771.3L150.5 761.8M172.7 745.1L174.2 771.1M178.9 761.0L174.2 771.1L168.4 761.5M190.9 745.1L191.7 770.9M196.6 761.0L191.7 770.9L186.2 761.3M209.1 745.1L209.3 770.7M214.4 761.0L209.3 770.7L204.1 761.0M227.3 745.1L226.9 770.5M232.2 760.9L226.9 770.5L221.9 760.8M245.5 745.1L244.6 769.9M250.0 760.7L244.6 769.9L240.0 760.3M263.7 745.1L262.4 769.3M267.8 760.4L262.4 769.3L258.0 759.8M281.9 745.1L280.2 767.8M285.5 759.5L280.2 767.8L276.3 758.8M300.1 745.1L298.2 766.3M303.2 758.6L298.2 766.3L294.6 757.8M318.3 745.1L316.3 764.7M321.0 757.7L316.3 764.7L313.1 756.9M336.5 745.1L334.4 763.2M338.9 756.7L334.4 763.2L331.6 755.9M354.7 745.1L352.5 762.5M356.8 756.3L352.5 762.5L349.8 755.4M372.9 745.1L370.6 761.7M374.8 755.9L370.6 761.7L368.1 755.0M391.1 745.1L388.9 762.3M393.2 756.2L388.9 762.3L386.3 755.3M409.3 745.1L407.2 762.9M411.6 756.5L407.2 762.9L404.4 755.7M427.5 745.1L425.9 760.8M429.6 755.1L425.9 760.8L423.3 754.5M445.7 745.1L444.4 758.6M447.6 753.7L444.4 758.6L442.2 753.2M463.9 745.1L463.6 757.3M466.2 752.7L463.6 757.3L461.3 752.6M482.0 745.1L482.6 755.9M484.6 751.7L482.6 755.9L480.2 751.9M500.2 745.1L501.5 755.3M503.1 751.2L501.5 755.3L499.0 751.7M518.4 745.1L520.4 754.7M521.6 750.7L520.4 754.7L517.7 751.4M536.6 745.1L539.0 754.7M540.1 750.6L539.0 754.7L536.2 751.6M554.8 745.1L557.7 754.8M558.5 750.5L557.7 754.8L554.6 751.7M573.0 745.1L576.5 755.4M577.3 750.8L576.5 755.4L573.1 752.2M591.2 745.1L595.4 755.9M596.0 751.0L595.4 755.9L591.7 752.7M609.4 745.1L614.1 757.3M614.8 751.7L614.1 757.3L609.9 753.6M627.6 745.1L632.7 758.6M633.5 752.4L632.7 758.6L628.0 754.5M645.8 745.1L650.9 758.8M651.7 752.6L650.9 758.8L646.2 754.6M664.0 745.1L669.1 759.0M670.0 752.7L669.1 759.0L664.4 754.8M682.2 745.1L687.4 757.8M688.0 751.9L687.4 757.8L682.8 754.0M700.4 745.1L705.5 756.6M705.9 751.2L705.5 756.6L701.3 753.3M718.6 745.1L723.6 755.3M723.8 750.4L723.6 755.3L719.6 752.5M736.8 745.1L741.6 754.1M741.6 749.7L741.6 754.1L738.0 751.7M755.0 745.1L760.0 753.5M759.8 749.3L760.0 753.5L756.4 751.3M773.2 745.1L778.3 752.9M777.9 748.9L778.3 752.9L774.8 751.0M791.4 745.1L796.6 752.3M796.1 748.5L796.6 752.3L793.2 750.7M9.0 763.3L0.3 772.0M5.3 770.4L0.3 772.0L1.8 766.9M27.2 763.3L17.3 773.2M23.0 771.4L17.3 773.2L19.0 767.4M45.4 763.3L42.8 772.7M45.7 769.6L42.8 772.7L41.9 768.6M63.6 763.3L63.0 778.2M66.2 772.7L63.0 778.2L60.2 772.4M81.8 763.3L85.2 783.1M87.9 774.9L85.2 783.1L79.9 776.3M100.0 763.3L103.3 785.4M106.5 776.3L103.3 785.4L97.5 777.7M118.1 763.3L121.2 787.7M124.9 777.8L121.2 787.7L115.1 779.0M136.3 763.3L138.8 788.5M142.9 778.4L138.8 788.5L132.8 779.4M154.5 763.3L156.4 789.2M160.9 779.0L156.4 789.2L150.4 779.7M172.7 763.3L174.0 789.1M178.7 779.0L174.0 789.1L168.3 779.5M190.9 763.3L191.6 788.9M196.5 779.0L191.6 788.9L186.2 779.3M209.1 763.3L209.2 788.7M214.3 779.0L209.2 788.7L204.1 779.0M227.3 763.3L226.9 788.4M232.1 778.9L226.9 788.4L222.0 778.8M245.5 763.3L244.7 787.9M250.0 778.7L244.7 787.9L240.0 778.4M263.7 763.3L262.4 787.5M267.8 778.5L262.4 787.5L258.0 778.0M281.9 763.3L280.3 786.0M285.5 777.7L280.3 786.0L276.3 777.0M300.1 763.3L298.2 784.5M303.2 776.8L298.2 784.5L294.7 776.0M318.3 763.3L316.4 782.9M321.1 775.8L316.4 782.9L313.2 775.1M336.5 763.3L334.6 781.4M339.0 774.9L334.6 781.4L331.7 774.1M354.7 763.3L352.7 780.8M357.0 774.5L352.7 780.8L349.9 773.7M372.9 763.3L370.8 780.2M375.0 774.2L370.8 780.2L368.2 773.4M391.1 763.3L389.3 781.2M393.6 774.8L389.3 781.2L386.3 774.0M409.3 763.3L407.8 782.2M412.2 775.3L407.8 782.2L404.5 774.7M427.5 763.3L426.5 780.0M430.3 773.9L426.5 780.0L423.5 773.5M445.7 763.3L445.2 777.8M448.3 772.4L445.2 777.8L442.4 772.2M463.9 763.3L464.4 776.4M466.8 771.3L464.4 776.4L461.5 771.5M482.0 763.3L483.4 774.9M485.2 770.2L483.4 774.9L480.5 770.8M500.2 763.3L502.4 774.5M503.9 769.8L502.4 774.5L499.3 770.7M518.4 763.3L521.3 774.1M522.4 769.4L521.3 774.1L518.1 770.6M536.6 763.3L540.0 773.9M540.9 769.2L540.0 773.9L536.6 770.6M554.8 763.3L558.7 773.8M559.3 769.0L558.7 773.8L555.1 770.6M573.0 763.3L577.6 774.3M578.1 769.2L577.6 774.3L573.6 771.0M591.2 763.3L596.5 774.7M596.8 769.3L596.5 774.7L592.2 771.4M609.4 763.3L615.5 776.3M615.8 770.1L615.5 776.3L610.6 772.6M627.6 763.3L634.5 778.0M634.8 771.0L634.5 778.0L628.9 773.8M645.8 763.3L652.7 778.0M653.0 771.0L652.7 778.0L647.1 773.8M664.0 763.3L670.9 778.0M671.2 771.0L670.9 778.0L665.3 773.8M682.2 763.3L689.5 776.5M689.4 770.0L689.5 776.5L684.0 773.0M700.4 763.3L707.9 775.1M707.5 769.1L707.9 775.1L702.7 772.1M718.6 763.3L726.3 773.7M725.5 768.2L726.3 773.7L721.3 771.3M736.8 763.3L744.5 772.5M743.5 767.4L744.5 772.5L739.7 770.5M755.0 763.3L763.2 771.8M761.8 766.9L763.2 771.8L758.4 770.2M773.2 763.3L781.9 771.2M780.2 766.4L781.9 771.2L777.0 769.9M791.4 763.3L800.4 770.5M798.5 765.9L800.4 770.5L795.5 769.6" fill="none" stroke="#fff" stroke-width="1" shape-rendering="crispEdges"/>
<g fill="none" stroke="#000" stroke-width="1" stroke-linejoin="round" shape-rendering="crispEdges"><polyline points="241.2,28.8 235.0,31.2 234.5,45.0 233.8,52.5 228.8,60.0 226.2,67.5 222.5,70.0 227.5,73.8 228.0,78.8 225.0,85.0 223.8,95.0 213.8,98.8 212.5,101.2 216.2,106.2 217.0,113.8 213.8,120.0 220.0,130.0 216.2,136.2 212.0,142.5 212.5,155.0 215.0,168.8 217.5,176.2 215.5,182.5 217.0,186.2 212.5,189.5 203.8,189.5 197.5,188.0 195.5,190.0 197.0,195.0 196.2,200.0 197.5,203.8 192.5,206.2 190.0,211.2 188.8,220.0 187.5,227.5 187.5,235.0 190.0,240.0 192.5,245.0 195.0,253.8 195.5,258.8 198.8,265.0 200.0,270.0 196.2,273.8 191.2,274.5 185.0,275.5 191.2,278.0 194.5,281.2 190.5,285.0 192.5,288.8 200.0,296.2 203.8,298.8 211.2,302.5 217.5,307.5 225.0,313.0 231.2,315.5 237.5,315.5 243.8,318.0 250.0,321.2 257.5,326.2 266.2,331.2 273.8,337.5 280.0,343.8 286.2,350.0 290.0,356.2 289.5,360.0 285.0,365.0 280.0,370.0 275.0,377.5 272.5,385.0 272.0,392.5 274.5,400.0 278.1,406.2 284.4,414.1 292.2,421.9 303.1,426.6 312.5,423.4 318.8,421.9 321.2,428.1 322.5,440.6 323.4,453.1 324.4,464.1 320.3,470.3 312.5,479.7 306.2,487.5 300.0,496.9 292.2,506.2 284.4,514.1 275.0,521.9 267.2,528.1 262.5,535.9 260.9,543.8 260.9,551.6 254.7,556.2 243.8,562.5 234.4,568.8 221.9,573.4 212.5,578.1 200.0,581.2 187.5,585.0 175.0,588.1 162.5,591.2 150.0,595.3 131.0,598.0 118.8,600.3 106.0,602.5 93.8,606.0 81.9,607.5 32.8,611.9 18.8,614.4 9.4,616.0 0.0,617.5"/><polyline points="212.0,142.5 217.0,157.5 218.0,168.8 223.8,175.0 223.0,181.2 220.0,186.2 216.2,189.5 210.0,190.0 201.2,190.5 200.8,195.0 201.8,200.0 198.8,205.0 196.2,210.0 198.8,215.0 197.5,220.0 196.2,212.5 198.0,216.2 195.5,218.8 196.2,225.0 195.0,232.5 196.2,240.0 198.0,246.2 202.5,252.5 206.2,255.5 210.0,260.0 212.5,264.5 217.5,267.0 221.2,270.0 225.0,273.8 230.0,277.5 234.5,282.5 236.2,287.0 240.0,288.8 245.0,288.0 252.5,286.2 260.0,286.2 267.5,285.5 272.5,285.0 280.0,286.2 287.5,287.5 292.5,291.2 298.8,296.2 305.0,300.0 312.5,303.8 320.0,306.2 327.5,308.0 333.8,309.5 341.2,309.5 343.8,312.5 342.5,315.5 346.2,317.5 350.0,321.2 356.2,320.3 360.9,321.9 365.6,318.8 371.9,317.2 379.7,312.5 387.5,310.9 396.9,310.9 406.2,311.9 417.2,312.5 423.4,317.2 429.7,320.3 437.5,318.8 443.8,320.3 448.4,325.0 456.2,321.2 465.6,317.2 475.0,314.1 484.4,310.9 492.2,307.8 493.8,303.1 496.9,300.0 494.4,296.2 499.4,296.9 499.4,300.0 500.6,303.8 506.2,303.1 512.5,298.4 520.3,292.2 528.1,287.5 534.4,281.2 535.9,275.0 540.6,270.3 545.3,264.1 551.6,257.8 554.7,250.0 559.4,242.2 563.1,235.9 568.8,231.9 575.0,226.6 582.8,220.3 590.6,214.1 600.0,207.8 607.8,193.8 617.2,184.4 625.0,173.4 630.6,162.5 633.8,150.0 637.5,137.5 643.8,129.7 653.1,121.9 664.1,112.5 675.0,103.1 687.5,93.8 700.0,84.4 712.5,76.6 725.0,67.2 737.5,57.8 750.0,45.3 759.4,35.9 765.6,28.1"/><polyline points="400.0,27.5 410.0,32.5 420.0,45.0 435.0,52.5 455.0,62.5 475.0,70.0 490.0,85.0 507.5,100.0 520.0,105.0 531.0,112.5 537.5,120.0 545.0,132.5 555.0,142.5 565.0,150.0 575.0,156.0 582.5,162.5 575.0,170.0 570.0,177.5 560.0,182.5 554.0,192.5 551.5,205.0 552.5,220.0 554.0,230.0 557.5,237.5 562.5,240.0"/><polyline points="700.0,27.5 703.1,34.4 700.6,39.1 696.9,40.6 692.2,46.9 689.1,53.1 681.2,55.6 673.4,57.2 668.8,60.9 664.1,64.1 665.6,67.2 670.3,70.3 667.2,75.0 659.4,76.6 656.2,78.1 657.8,81.9 656.2,83.8 650.6,89.1 647.5,93.8 645.3,99.4 649.4,103.1 654.7,104.7 657.8,100.6 655.6,96.9 657.8,93.8 662.5,97.5 670.3,98.4 675.0,95.3 681.2,92.2 687.5,89.1 693.8,84.4 700.0,81.2 703.1,76.6 706.2,73.4 712.5,71.9 718.8,67.2 721.9,60.9 723.4,50.0 725.0,42.2 729.7,40.6 734.4,41.2 737.5,43.8 736.9,37.5 736.2,31.2 737.5,28.1"/><polyline points="645.3,107.8 650.0,112.5 656.2,115.6 659.4,110.9 657.8,120.3 654.7,117.2 646.9,115.6 645.3,107.8"/></g>
<g stroke="#808080" stroke-width="1" shape-rendering="crispEdges"><line x1="8.5" y1="28" x2="8.5" y2="772"/><line x1="81.5" y1="28" x2="81.5" y2="772"/><line x1="153.5" y1="28" x2="153.5" y2="772"/><line x1="226.5" y1="28" x2="226.5" y2="772"/><line x1="299.5" y1="28" x2="299.5" y2="772"/><line x1="372.5" y1="28" x2="372.5" y2="772"/><line x1="445.5" y1="28" x2="445.5" y2="772"/><line x1="517.5" y1="28" x2="517.5" y2="772"/><line x1="590.5" y1="28" x2="590.5" y2="772"/><line x1="663.5" y1="28" x2="663.5" y2="772"/><line x1="736.5" y1="28" x2="736.5" y2="772"/><line x1="0" y1="36.5" x2="800" y2="36.5"/><line x1="0" y1="109.5" x2="800" y2="109.5"/><line x1="0" y1="182.5" x2="800" y2="182.5"/><line x1="0" y1="254.5" x2="800" y2="254.5"/><line x1="0" y1="327.5" x2="800" y2="327.5"/><line x1="0" y1="400.5" x2="800" y2="400.5"/><line x1="0" y1="472.5" x2="800" y2="472.5"/><line x1="0" y1="545.5" x2="800" y2="545.5"/><line x1="0" y1="618.5" x2="800" y2="618.5"/><line x1="0" y1="690.5" x2="800" y2="690.5"/><line x1="0" y1="763.5" x2="800" y2="763.5"/></g>
<clipPath id="pc"><rect x="0" y="28" width="800" height="744"/></clipPath><g font-size="12.5" fill="#8a8078" clip-path="url(#pc)" opacity="0.999"><text x="771" y="32.0" textLength="21" lengthAdjust="spacingAndGlyphs">31S</text><text x="771" y="105.0" textLength="21" lengthAdjust="spacingAndGlyphs">32S</text><text x="771" y="178.0" textLength="21" lengthAdjust="spacingAndGlyphs">33S</text><text x="771" y="250.0" textLength="21" lengthAdjust="spacingAndGlyphs">34S</text><text x="771" y="323.0" textLength="21" lengthAdjust="spacingAndGlyphs">35S</text><text x="771" y="396.0" textLength="21" lengthAdjust="spacingAndGlyphs">36S</text><text x="771" y="468.0" textLength="21" lengthAdjust="spacingAndGlyphs">37S</text><text x="771" y="541.0" textLength="21" lengthAdjust="spacingAndGlyphs">38S</text><text x="771" y="614.0" textLength="21" lengthAdjust="spacingAndGlyphs">39S</text><text x="771" y="686.0" textLength="21" lengthAdjust="spacingAndGlyphs">40S</text><text x="771" y="759.0" textLength="21" lengthAdjust="spacingAndGlyphs">41S</text><text transform="translate(12.5,742.0) rotate(90)" x="0" y="0" textLength="23" lengthAdjust="spacingAndGlyphs">61W</text><text transform="translate(85.5,742.0) rotate(90)" x="0" y="0" textLength="23" lengthAdjust="spacingAndGlyphs">60W</text><text transform="translate(157.5,742.0) rotate(90)" x="0" y="0" textLength="23" lengthAdjust="spacingAndGlyphs">59W</text><text transform="translate(230.5,742.0) rotate(90)" x="0" y="0" textLength="23" lengthAdjust="spacingAndGlyphs">58W</text><text transform="translate(303.5,742.0) rotate(90)" x="0" y="0" textLength="23" lengthAdjust="spacingAndGlyphs">57W</text><text transform="translate(376.5,742.0) rotate(90)" x="0" y="0" textLength="23" lengthAdjust="spacingAndGlyphs">56W</text><text transform="translate(449.5,742.0) rotate(90)" x="0" y="0" textLength="23" lengthAdjust="spacingAndGlyphs">55W</text><text transform="translate(521.5,742.0) rotate(90)" x="0" y="0" textLength="23" lengthAdjust="spacingAndGlyphs">54W</text><text transform="translate(594.5,742.0) rotate(90)" x="0" y="0" textLength="23" lengthAdjust="spacingAndGlyphs">53W</text><text transform="translate(667.5,742.0) rotate(90)" x="0" y="0" textLength="23" lengthAdjust="spacingAndGlyphs">52W</text><text transform="translate(740.5,742.0) rotate(90)" x="0" y="0" textLength="23" lengthAdjust="spacingAndGlyphs">51W</text></g>
<path d="M1.5 27v5M1.5 772v-4M8.5 27v18M8.5 772v-17M15.5 27v5M15.5 772v-4M22.5 27v5M22.5 772v-4M30.5 27v5M30.5 772v-4M37.5 27v5M37.5 772v-4M44.5 27v10M44.5 772v-9M52.5 27v5M52.5 772v-4M59.5 27v5M59.5 772v-4M66.5 27v5M66.5 772v-4M73.5 27v5M73.5 772v-4M81.5 27v18M81.5 772v-17M88.5 27v5M88.5 772v-4M95.5 27v5M95.5 772v-4M102.5 27v5M102.5 772v-4M110.5 27v5M110.5 772v-4M117.5 27v10M117.5 772v-9M124.5 27v5M124.5 772v-4M132.5 27v5M132.5 772v-4M139.5 27v5M139.5 772v-4M146.5 27v5M146.5 772v-4M153.5 27v18M153.5 772v-17M161.5 27v5M161.5 772v-4M168.5 27v5M168.5 772v-4M175.5 27v5M175.5 772v-4M183.5 27v5M183.5 772v-4M190.5 27v10M190.5 772v-9M197.5 27v5M197.5 772v-4M204.5 27v5M204.5 772v-4M212.5 27v5M212.5 772v-4M219.5 27v5M219.5 772v-4M226.5 27v18M226.5 772v-17M233.5 27v5M233.5 772v-4M241.5 27v5M241.5 772v-4M248.5 27v5M248.5 772v-4M255.5 27v5M255.5 772v-4M263.5 27v10M263.5 772v-9M270.5 27v5M270.5 772v-4M277.5 27v5M277.5 772v-4M284.5 27v5M284.5 772v-4M292.5 27v5M292.5 772v-4M299.5 27v18M299.5 772v-17M306.5 27v5M306.5 772v-4M314.5 27v5M314.5 772v-4M321.5 27v5M321.5 772v-4M328.5 27v5M328.5 772v-4M335.5 27v10M335.5 772v-9M343.5 27v5M343.5 772v-4M350.5 27v5M350.5 772v-4M357.5 27v5M357.5 772v-4M365.5 27v5M365.5 772v-4M372.5 27v18M372.5 772v-17M379.5 27v5M379.5 772v-4M386.5 27v5M386.5 772v-4M394.5 27v5M394.5 772v-4M401.5 27v5M401.5 772v-4M408.5 27v10M408.5 772v-9M415.5 27v5M415.5 772v-4M423.5 27v5M423.5 772v-4M430.5 27v5M430.5 772v-4M437.5 27v5M437.5 772v-4M445.5 27v18M445.5 772v-17M452.5 27v5M452.5 772v-4M459.5 27v5M459.5 772v-4M466.5 27v5M466.5 772v-4M474.5 27v5M474.5 772v-4M481.5 27v10M481.5 772v-9M488.5 27v5M488.5 772v-4M496.5 27v5M496.5 772v-4M503.5 27v5M503.5 772v-4M510.5 27v5M510.5 772v-4M517.5 27v18M517.5 772v-17M525.5 27v5M525.5 772v-4M532.5 27v5M532.5 772v-4M539.5 27v5M539.5 772v-4M546.5 27v5M546.5 772v-4M554.5 27v10M554.5 772v-9M561.5 27v5M561.5 772v-4M568.5 27v5M568.5 772v-4M576.5 27v5M576.5 772v-4M583.5 27v5M583.5 772v-4M590.5 27v18M590.5 772v-17M597.5 27v5M597.5 772v-4M605.5 27v5M605.5 772v-4M612.5 27v5M612.5 772v-4M619.5 27v5M619.5 772v-4M627.5 27v10M627.5 772v-9M634.5 27v5M634.5 772v-4M641.5 27v5M641.5 772v-4M648.5 27v5M648.5 772v-4M656.5 27v5M656.5 772v-4M663.5 27v18M663.5 772v-17M670.5 27v5M670.5 772v-4M677.5 27v5M677.5 772v-4M685.5 27v5M685.5 772v-4M692.5 27v5M692.5 772v-4M699.5 27v10M699.5 772v-9M707.5 27v5M707.5 772v-4M714.5 27v5M714.5 772v-4M721.5 27v5M721.5 772v-4M728.5 27v5M728.5 772v-4M736.5 27v18M736.5 772v-17M743.5 27v5M743.5 772v-4M750.5 27v5M750.5 772v-4M758.5 27v5M758.5 772v-4M765.5 27v5M765.5 772v-4M772.5 27v10M772.5 772v-9M779.5 27v5M779.5 772v-4M787.5 27v5M787.5 772v-4M794.5 27v5M794.5 772v-4M0 29.5h5M800 29.5h-5M0 36.5h18M800 36.5h-18M0 44.5h5M800 44.5h-5M0 51.5h5M800 51.5h-5M0 58.5h5M800 58.5h-5M0 65.5h5M800 65.5h-5M0 73.5h10M800 73.5h-10M0 80.5h5M800 80.5h-5M0 87.5h5M800 87.5h-5M0 94.5h5M800 94.5h-5M0 102.5h5M800 102.5h-5M0 109.5h18M800 109.5h-18M0 116.5h5M800 116.5h-5M0 124.5h5M800 124.5h-5M0 131.5h5M800 131.5h-5M0 138.5h5M800 138.5h-5M0 145.5h10M800 145.5h-10M0 153.5h5M800 153.5h-5M0 160.5h5M800 160.5h-5M0 167.5h5M800 167.5h-5M0 174.5h5M800 174.5h-5M0 182.5h18M800 182.5h-18M0 189.5h5M800 189.5h-5M0 196.5h5M800 196.5h-5M0 203.5h5M800 203.5h-5M0 211.5h5M800 211.5h-5M0 218.5h10M800 218.5h-10M0 225.5h5M800 225.5h-5M0 233.5h5M800 233.5h-5M0 240.5h5M800 240.5h-5M0 247.5h5M800 247.5h-5M0 254.5h18M800 254.5h-18M0 262.5h5M800 262.5h-5M0 269.5h5M800 269.5h-5M0 276.5h5M800 276.5h-5M0 283.5h5M800 283.5h-5M0 291.5h10M800 291.5h-10M0 298.5h5M800 298.5h-5M0 305.5h5M800 305.5h-5M0 312.5h5M800 312.5h-5M0 320.5h5M800 320.5h-5M0 327.5h18M800 327.5h-18M0 334.5h5M800 334.5h-5M0 342.5h5M800 342.5h-5M0 349.5h5M800 349.5h-5M0 356.5h5M800 356.5h-5M0 363.5h10M800 363.5h-10M0 371.5h5M800 371.5h-5M0 378.5h5M800 378.5h-5M0 385.5h5M800 385.5h-5M0 392.5h5M800 392.5h-5M0 400.5h18M800 400.5h-18M0 407.5h5M800 407.5h-5M0 414.5h5M800 414.5h-5M0 421.5h5M800 421.5h-5M0 429.5h5M800 429.5h-5M0 436.5h10M800 436.5h-10M0 443.5h5M800 443.5h-5M0 451.5h5M800 451.5h-5M0 458.5h5M800 458.5h-5M0 465.5h5M800 465.5h-5M0 472.5h18M800 472.5h-18M0 480.5h5M800 480.5h-5M0 487.5h5M800 487.5h-5M0 494.5h5M800 494.5h-5M0 501.5h5M800 501.5h-5M0 509.5h10M800 509.5h-10M0 516.5h5M800 516.5h-5M0 523.5h5M800 523.5h-5M0 530.5h5M800 530.5h-5M0 538.5h5M800 538.5h-5M0 545.5h18M800 545.5h-18M0 552.5h5M800 552.5h-5M0 560.5h5M800 560.5h-5M0 567.5h5M800 567.5h-5M0 574.5h5M800 574.5h-5M0 581.5h10M800 581.5h-10M0 589.5h5M800 589.5h-5M0 596.5h5M800 596.5h-5M0 603.5h5M800 603.5h-5M0 610.5h5M800 610.5h-5M0 618.5h18M800 618.5h-18M0 625.5h5M800 625.5h-5M0 632.5h5M800 632.5h-5M0 639.5h5M800 639.5h-5M0 647.5h5M800 647.5h-5M0 654.5h10M800 654.5h-10M0 661.5h5M800 661.5h-5M0 669.5h5M800 669.5h-5M0 676.5h5M800 676.5h-5M0 683.5h5M800 683.5h-5M0 690.5h18M800 690.5h-18M0 698.5h5M800 698.5h-5M0 705.5h5M800 705.5h-5M0 712.5h5M800 712.5h-5M0 719.5h5M800 719.5h-5M0 727.5h10M800 727.5h-10M0 734.5h5M800 734.5h-5M0 741.5h5M800 741.5h-5M0 748.5h5M800 748.5h-5M0 756.5h5M800 756.5h-5M0 763.5h18M800 763.5h-18M0 770.5h5M800 770.5h-5" stroke="#000" stroke-width="1" fill="none" shape-rendering="crispEdges"/><path d="M0 27.5H800M0.5 27V772" fill="none" stroke="#000" stroke-width="1" shape-rendering="crispEdges"/>
<rect x="32.5" y="160.5" width="48" height="608" fill="#fff" stroke="#000" stroke-width="1" shape-rendering="crispEdges"/><rect x="34" y="162" width="45" height="605" fill="url(#cb)"/><g font-size="16" fill="#111" opacity="0.999"><text x="33" y="148.5" textLength="45" lengthAdjust="spacingAndGlyphs" font-size="16">[m/s]</text><text x="85.5" y="166" textLength="19" lengthAdjust="spacingAndGlyphs">30</text><text x="85.5" y="318" textLength="19" lengthAdjust="spacingAndGlyphs">22</text><text x="85.5" y="470" textLength="19" lengthAdjust="spacingAndGlyphs">15</text><text x="85.5" y="622" textLength="9" lengthAdjust="spacingAndGlyphs">8</text><text x="85.5" y="774" textLength="9" lengthAdjust="spacingAndGlyphs">0</text></g><g font-size="24" font-weight="bold" fill="#808080" stroke="#808080" stroke-width="0.6" opacity="0.999"><text x="5" y="50" textLength="384" lengthAdjust="spacingAndGlyphs">modelo GEFS-WAVE (NCEP)</text><text x="5" y="72.5" textLength="494" lengthAdjust="spacingAndGlyphs">forecast date: 2026-01-19 12:00:00</text><text x="42" y="94.5" textLength="446" lengthAdjust="spacingAndGlyphs">valid date: 2026-02-01 12:00:00</text></g>
</svg>
</body></html>
